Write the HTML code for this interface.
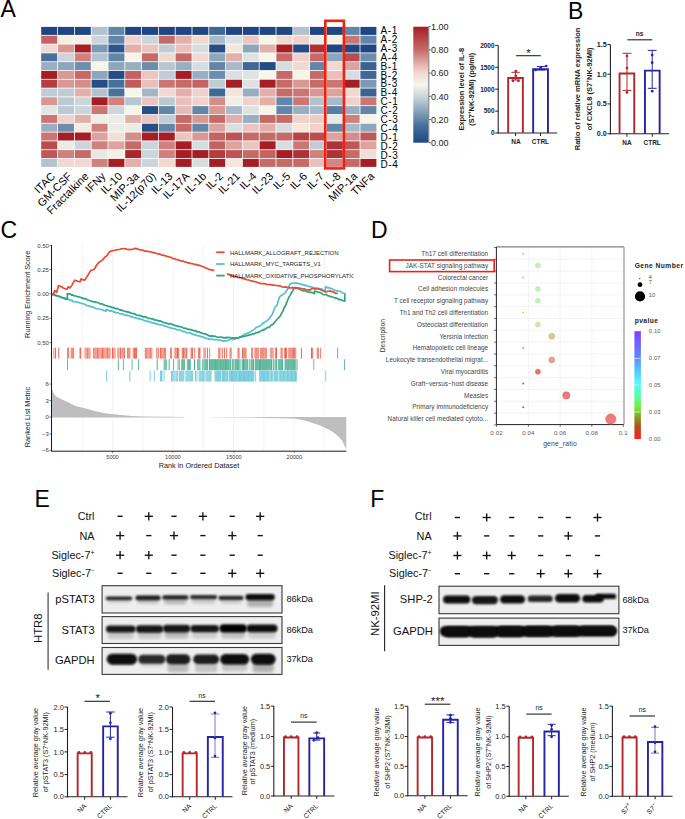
<!DOCTYPE html>
<html><head><meta charset="utf-8"><style>
html,body{margin:0;padding:0;background:#fff;}
svg{display:block;font-family:"Liberation Sans", sans-serif;}
</style></head><body>
<svg width="685" height="819" viewBox="0 0 685 819">
<rect width="685" height="819" fill="#fff"/>
<text x="0.60" y="17.20" font-size="23" text-anchor="start" font-weight="normal" fill="#000" >A</text>
<rect x="41.20" y="26.90" width="16.00" height="8.00" fill="#1f4682" stroke="none" stroke-width="1" />
<rect x="41.20" y="35.70" width="16.00" height="8.00" fill="#c36261" stroke="none" stroke-width="1" />
<rect x="41.20" y="44.50" width="16.00" height="8.00" fill="#f1d8d0" stroke="none" stroke-width="1" />
<rect x="41.20" y="53.30" width="16.00" height="8.00" fill="#48709c" stroke="none" stroke-width="1" />
<rect x="41.20" y="62.10" width="16.00" height="8.00" fill="#98aec1" stroke="none" stroke-width="1" />
<rect x="41.20" y="70.90" width="16.00" height="8.00" fill="#a51e26" stroke="none" stroke-width="1" />
<rect x="41.20" y="79.70" width="16.00" height="8.00" fill="#b23c40" stroke="none" stroke-width="1" />
<rect x="41.20" y="88.50" width="16.00" height="8.00" fill="#c1cdd6" stroke="none" stroke-width="1" />
<rect x="41.20" y="97.30" width="16.00" height="8.00" fill="#d99894" stroke="none" stroke-width="1" />
<rect x="41.20" y="106.10" width="16.00" height="8.00" fill="#e2e6e3" stroke="none" stroke-width="1" />
<rect x="41.20" y="114.90" width="16.00" height="8.00" fill="#cb7673" stroke="none" stroke-width="1" />
<rect x="41.20" y="123.70" width="16.00" height="8.00" fill="#98aec1" stroke="none" stroke-width="1" />
<rect x="41.20" y="132.50" width="16.00" height="8.00" fill="#cb7673" stroke="none" stroke-width="1" />
<rect x="41.20" y="141.30" width="16.00" height="8.00" fill="#b94c4e" stroke="none" stroke-width="1" />
<rect x="41.20" y="150.10" width="16.00" height="8.00" fill="#be5758" stroke="none" stroke-width="1" />
<rect x="41.20" y="158.90" width="16.00" height="8.00" fill="#b2c2ce" stroke="none" stroke-width="1" />
<rect x="58.00" y="26.90" width="16.00" height="8.00" fill="#1f4682" stroke="none" stroke-width="1" />
<rect x="58.00" y="35.70" width="16.00" height="8.00" fill="#f6efe3" stroke="none" stroke-width="1" />
<rect x="58.00" y="44.50" width="16.00" height="8.00" fill="#d99894" stroke="none" stroke-width="1" />
<rect x="58.00" y="53.30" width="16.00" height="8.00" fill="#ccd5db" stroke="none" stroke-width="1" />
<rect x="58.00" y="62.10" width="16.00" height="8.00" fill="#8da6bc" stroke="none" stroke-width="1" />
<rect x="58.00" y="70.90" width="16.00" height="8.00" fill="#d99894" stroke="none" stroke-width="1" />
<rect x="58.00" y="79.70" width="16.00" height="8.00" fill="#d99894" stroke="none" stroke-width="1" />
<rect x="58.00" y="88.50" width="16.00" height="8.00" fill="#c1cdd6" stroke="none" stroke-width="1" />
<rect x="58.00" y="97.30" width="16.00" height="8.00" fill="#bcc9d3" stroke="none" stroke-width="1" />
<rect x="58.00" y="106.10" width="16.00" height="8.00" fill="#bcc9d3" stroke="none" stroke-width="1" />
<rect x="58.00" y="114.90" width="16.00" height="8.00" fill="#f0d2cb" stroke="none" stroke-width="1" />
<rect x="58.00" y="123.70" width="16.00" height="8.00" fill="#6d8dad" stroke="none" stroke-width="1" />
<rect x="58.00" y="132.50" width="16.00" height="8.00" fill="#a51e26" stroke="none" stroke-width="1" />
<rect x="58.00" y="141.30" width="16.00" height="8.00" fill="#ebece5" stroke="none" stroke-width="1" />
<rect x="58.00" y="150.10" width="16.00" height="8.00" fill="#cf817e" stroke="none" stroke-width="1" />
<rect x="58.00" y="158.90" width="16.00" height="8.00" fill="#f1d8d0" stroke="none" stroke-width="1" />
<rect x="74.80" y="26.90" width="16.00" height="8.00" fill="#1f4682" stroke="none" stroke-width="1" />
<rect x="74.80" y="35.70" width="16.00" height="8.00" fill="#f6efe3" stroke="none" stroke-width="1" />
<rect x="74.80" y="44.50" width="16.00" height="8.00" fill="#a51e26" stroke="none" stroke-width="1" />
<rect x="74.80" y="53.30" width="16.00" height="8.00" fill="#cf817e" stroke="none" stroke-width="1" />
<rect x="74.80" y="62.10" width="16.00" height="8.00" fill="#6d8dad" stroke="none" stroke-width="1" />
<rect x="74.80" y="70.90" width="16.00" height="8.00" fill="#c66a68" stroke="none" stroke-width="1" />
<rect x="74.80" y="79.70" width="16.00" height="8.00" fill="#d48d89" stroke="none" stroke-width="1" />
<rect x="74.80" y="88.50" width="16.00" height="8.00" fill="#e2afaa" stroke="none" stroke-width="1" />
<rect x="74.80" y="97.30" width="16.00" height="8.00" fill="#ccd5db" stroke="none" stroke-width="1" />
<rect x="74.80" y="106.10" width="16.00" height="8.00" fill="#ccd5db" stroke="none" stroke-width="1" />
<rect x="74.80" y="114.90" width="16.00" height="8.00" fill="#e2afaa" stroke="none" stroke-width="1" />
<rect x="74.80" y="123.70" width="16.00" height="8.00" fill="#f5ece1" stroke="none" stroke-width="1" />
<rect x="74.80" y="132.50" width="16.00" height="8.00" fill="#a51e26" stroke="none" stroke-width="1" />
<rect x="74.80" y="141.30" width="16.00" height="8.00" fill="#ccd5db" stroke="none" stroke-width="1" />
<rect x="74.80" y="150.10" width="16.00" height="8.00" fill="#c66a68" stroke="none" stroke-width="1" />
<rect x="74.80" y="158.90" width="16.00" height="8.00" fill="#f1d8d0" stroke="none" stroke-width="1" />
<rect x="91.60" y="26.90" width="16.00" height="8.00" fill="#b2c2ce" stroke="none" stroke-width="1" />
<rect x="91.60" y="35.70" width="16.00" height="8.00" fill="#ccd5db" stroke="none" stroke-width="1" />
<rect x="91.60" y="44.50" width="16.00" height="8.00" fill="#7d99b5" stroke="none" stroke-width="1" />
<rect x="91.60" y="53.30" width="16.00" height="8.00" fill="#b2c2ce" stroke="none" stroke-width="1" />
<rect x="91.60" y="62.10" width="16.00" height="8.00" fill="#f7f5e8" stroke="none" stroke-width="1" />
<rect x="91.60" y="70.90" width="16.00" height="8.00" fill="#8da6bc" stroke="none" stroke-width="1" />
<rect x="91.60" y="79.70" width="16.00" height="8.00" fill="#244c85" stroke="none" stroke-width="1" />
<rect x="91.60" y="88.50" width="16.00" height="8.00" fill="#b2c2ce" stroke="none" stroke-width="1" />
<rect x="91.60" y="97.30" width="16.00" height="8.00" fill="#a51e26" stroke="none" stroke-width="1" />
<rect x="91.60" y="106.10" width="16.00" height="8.00" fill="#cb7673" stroke="none" stroke-width="1" />
<rect x="91.60" y="114.90" width="16.00" height="8.00" fill="#efefe6" stroke="none" stroke-width="1" />
<rect x="91.60" y="123.70" width="16.00" height="8.00" fill="#cf817e" stroke="none" stroke-width="1" />
<rect x="91.60" y="132.50" width="16.00" height="8.00" fill="#dda49f" stroke="none" stroke-width="1" />
<rect x="91.60" y="141.30" width="16.00" height="8.00" fill="#cf817e" stroke="none" stroke-width="1" />
<rect x="91.60" y="150.10" width="16.00" height="8.00" fill="#e6e9e4" stroke="none" stroke-width="1" />
<rect x="91.60" y="158.90" width="16.00" height="8.00" fill="#cf817e" stroke="none" stroke-width="1" />
<rect x="108.40" y="26.90" width="16.00" height="8.00" fill="#6385a8" stroke="none" stroke-width="1" />
<rect x="108.40" y="35.70" width="16.00" height="8.00" fill="#6385a8" stroke="none" stroke-width="1" />
<rect x="108.40" y="44.50" width="16.00" height="8.00" fill="#2d548b" stroke="none" stroke-width="1" />
<rect x="108.40" y="53.30" width="16.00" height="8.00" fill="#6385a8" stroke="none" stroke-width="1" />
<rect x="108.40" y="62.10" width="16.00" height="8.00" fill="#8da6bc" stroke="none" stroke-width="1" />
<rect x="108.40" y="70.90" width="16.00" height="8.00" fill="#244c85" stroke="none" stroke-width="1" />
<rect x="108.40" y="79.70" width="16.00" height="8.00" fill="#48709c" stroke="none" stroke-width="1" />
<rect x="108.40" y="88.50" width="16.00" height="8.00" fill="#48709c" stroke="none" stroke-width="1" />
<rect x="108.40" y="97.30" width="16.00" height="8.00" fill="#cf817e" stroke="none" stroke-width="1" />
<rect x="108.40" y="106.10" width="16.00" height="8.00" fill="#ccd5db" stroke="none" stroke-width="1" />
<rect x="108.40" y="114.90" width="16.00" height="8.00" fill="#ebece5" stroke="none" stroke-width="1" />
<rect x="108.40" y="123.70" width="16.00" height="8.00" fill="#ebece5" stroke="none" stroke-width="1" />
<rect x="108.40" y="132.50" width="16.00" height="8.00" fill="#f2ded5" stroke="none" stroke-width="1" />
<rect x="108.40" y="141.30" width="16.00" height="8.00" fill="#dda49f" stroke="none" stroke-width="1" />
<rect x="108.40" y="150.10" width="16.00" height="8.00" fill="#f6efe3" stroke="none" stroke-width="1" />
<rect x="108.40" y="158.90" width="16.00" height="8.00" fill="#a51e26" stroke="none" stroke-width="1" />
<rect x="125.20" y="26.90" width="16.00" height="8.00" fill="#1f4682" stroke="none" stroke-width="1" />
<rect x="125.20" y="35.70" width="16.00" height="8.00" fill="#f0d2cb" stroke="none" stroke-width="1" />
<rect x="125.20" y="44.50" width="16.00" height="8.00" fill="#e2afaa" stroke="none" stroke-width="1" />
<rect x="125.20" y="53.30" width="16.00" height="8.00" fill="#f7f5e8" stroke="none" stroke-width="1" />
<rect x="125.20" y="62.10" width="16.00" height="8.00" fill="#98aec1" stroke="none" stroke-width="1" />
<rect x="125.20" y="70.90" width="16.00" height="8.00" fill="#c36261" stroke="none" stroke-width="1" />
<rect x="125.20" y="79.70" width="16.00" height="8.00" fill="#bf5b5b" stroke="none" stroke-width="1" />
<rect x="125.20" y="88.50" width="16.00" height="8.00" fill="#f7f5e8" stroke="none" stroke-width="1" />
<rect x="125.20" y="97.30" width="16.00" height="8.00" fill="#b7c6d0" stroke="none" stroke-width="1" />
<rect x="125.20" y="106.10" width="16.00" height="8.00" fill="#f7f5e8" stroke="none" stroke-width="1" />
<rect x="125.20" y="114.90" width="16.00" height="8.00" fill="#e2afaa" stroke="none" stroke-width="1" />
<rect x="125.20" y="123.70" width="16.00" height="8.00" fill="#ebece5" stroke="none" stroke-width="1" />
<rect x="125.20" y="132.50" width="16.00" height="8.00" fill="#d48d89" stroke="none" stroke-width="1" />
<rect x="125.20" y="141.30" width="16.00" height="8.00" fill="#c66a68" stroke="none" stroke-width="1" />
<rect x="125.20" y="150.10" width="16.00" height="8.00" fill="#a8262d" stroke="none" stroke-width="1" />
<rect x="125.20" y="158.90" width="16.00" height="8.00" fill="#e2afaa" stroke="none" stroke-width="1" />
<rect x="142.00" y="26.90" width="16.00" height="8.00" fill="#1f4682" stroke="none" stroke-width="1" />
<rect x="142.00" y="35.70" width="16.00" height="8.00" fill="#ccd5db" stroke="none" stroke-width="1" />
<rect x="142.00" y="44.50" width="16.00" height="8.00" fill="#ebc6c0" stroke="none" stroke-width="1" />
<rect x="142.00" y="53.30" width="16.00" height="8.00" fill="#c66a68" stroke="none" stroke-width="1" />
<rect x="142.00" y="62.10" width="16.00" height="8.00" fill="#6d8dad" stroke="none" stroke-width="1" />
<rect x="142.00" y="70.90" width="16.00" height="8.00" fill="#ebc6c0" stroke="none" stroke-width="1" />
<rect x="142.00" y="79.70" width="16.00" height="8.00" fill="#e9c1ba" stroke="none" stroke-width="1" />
<rect x="142.00" y="88.50" width="16.00" height="8.00" fill="#a2b6c6" stroke="none" stroke-width="1" />
<rect x="142.00" y="97.30" width="16.00" height="8.00" fill="#ebc6c0" stroke="none" stroke-width="1" />
<rect x="142.00" y="106.10" width="16.00" height="8.00" fill="#274e87" stroke="none" stroke-width="1" />
<rect x="142.00" y="114.90" width="16.00" height="8.00" fill="#ebc6c0" stroke="none" stroke-width="1" />
<rect x="142.00" y="123.70" width="16.00" height="8.00" fill="#274e87" stroke="none" stroke-width="1" />
<rect x="142.00" y="132.50" width="16.00" height="8.00" fill="#a51e26" stroke="none" stroke-width="1" />
<rect x="142.00" y="141.30" width="16.00" height="8.00" fill="#ccd5db" stroke="none" stroke-width="1" />
<rect x="142.00" y="150.10" width="16.00" height="8.00" fill="#ccd5db" stroke="none" stroke-width="1" />
<rect x="142.00" y="158.90" width="16.00" height="8.00" fill="#ccd5db" stroke="none" stroke-width="1" />
<rect x="158.80" y="26.90" width="16.00" height="8.00" fill="#1f4682" stroke="none" stroke-width="1" />
<rect x="158.80" y="35.70" width="16.00" height="8.00" fill="#c66a68" stroke="none" stroke-width="1" />
<rect x="158.80" y="44.50" width="16.00" height="8.00" fill="#c1cdd6" stroke="none" stroke-width="1" />
<rect x="158.80" y="53.30" width="16.00" height="8.00" fill="#f1d8d0" stroke="none" stroke-width="1" />
<rect x="158.80" y="62.10" width="16.00" height="8.00" fill="#b7c6d0" stroke="none" stroke-width="1" />
<rect x="158.80" y="70.90" width="16.00" height="8.00" fill="#c1cdd6" stroke="none" stroke-width="1" />
<rect x="158.80" y="79.70" width="16.00" height="8.00" fill="#cb7673" stroke="none" stroke-width="1" />
<rect x="158.80" y="88.50" width="16.00" height="8.00" fill="#f1d8d0" stroke="none" stroke-width="1" />
<rect x="158.80" y="97.30" width="16.00" height="8.00" fill="#bcc9d3" stroke="none" stroke-width="1" />
<rect x="158.80" y="106.10" width="16.00" height="8.00" fill="#6385a8" stroke="none" stroke-width="1" />
<rect x="158.80" y="114.90" width="16.00" height="8.00" fill="#c1cdd6" stroke="none" stroke-width="1" />
<rect x="158.80" y="123.70" width="16.00" height="8.00" fill="#6385a8" stroke="none" stroke-width="1" />
<rect x="158.80" y="132.50" width="16.00" height="8.00" fill="#a51e26" stroke="none" stroke-width="1" />
<rect x="158.80" y="141.30" width="16.00" height="8.00" fill="#cf817e" stroke="none" stroke-width="1" />
<rect x="158.80" y="150.10" width="16.00" height="8.00" fill="#cf817e" stroke="none" stroke-width="1" />
<rect x="158.80" y="158.90" width="16.00" height="8.00" fill="#f1d8d0" stroke="none" stroke-width="1" />
<rect x="175.60" y="26.90" width="16.00" height="8.00" fill="#1f4682" stroke="none" stroke-width="1" />
<rect x="175.60" y="35.70" width="16.00" height="8.00" fill="#e2afaa" stroke="none" stroke-width="1" />
<rect x="175.60" y="44.50" width="16.00" height="8.00" fill="#e9c1ba" stroke="none" stroke-width="1" />
<rect x="175.60" y="53.30" width="16.00" height="8.00" fill="#c66a68" stroke="none" stroke-width="1" />
<rect x="175.60" y="62.10" width="16.00" height="8.00" fill="#98aec1" stroke="none" stroke-width="1" />
<rect x="175.60" y="70.90" width="16.00" height="8.00" fill="#a51e26" stroke="none" stroke-width="1" />
<rect x="175.60" y="79.70" width="16.00" height="8.00" fill="#c66a68" stroke="none" stroke-width="1" />
<rect x="175.60" y="88.50" width="16.00" height="8.00" fill="#e2afaa" stroke="none" stroke-width="1" />
<rect x="175.60" y="97.30" width="16.00" height="8.00" fill="#e9c1ba" stroke="none" stroke-width="1" />
<rect x="175.60" y="106.10" width="16.00" height="8.00" fill="#e7bbb5" stroke="none" stroke-width="1" />
<rect x="175.60" y="114.90" width="16.00" height="8.00" fill="#c66a68" stroke="none" stroke-width="1" />
<rect x="175.60" y="123.70" width="16.00" height="8.00" fill="#c66a68" stroke="none" stroke-width="1" />
<rect x="175.60" y="132.50" width="16.00" height="8.00" fill="#ebc6c0" stroke="none" stroke-width="1" />
<rect x="175.60" y="141.30" width="16.00" height="8.00" fill="#a51e26" stroke="none" stroke-width="1" />
<rect x="175.60" y="150.10" width="16.00" height="8.00" fill="#a51e26" stroke="none" stroke-width="1" />
<rect x="175.60" y="158.90" width="16.00" height="8.00" fill="#a51e26" stroke="none" stroke-width="1" />
<rect x="192.40" y="26.90" width="16.00" height="8.00" fill="#1f4682" stroke="none" stroke-width="1" />
<rect x="192.40" y="35.70" width="16.00" height="8.00" fill="#f1d8d0" stroke="none" stroke-width="1" />
<rect x="192.40" y="44.50" width="16.00" height="8.00" fill="#d6dde0" stroke="none" stroke-width="1" />
<rect x="192.40" y="53.30" width="16.00" height="8.00" fill="#f1d8d0" stroke="none" stroke-width="1" />
<rect x="192.40" y="62.10" width="16.00" height="8.00" fill="#d6dde0" stroke="none" stroke-width="1" />
<rect x="192.40" y="70.90" width="16.00" height="8.00" fill="#98aec1" stroke="none" stroke-width="1" />
<rect x="192.40" y="79.70" width="16.00" height="8.00" fill="#c36261" stroke="none" stroke-width="1" />
<rect x="192.40" y="88.50" width="16.00" height="8.00" fill="#f0d2cb" stroke="none" stroke-width="1" />
<rect x="192.40" y="97.30" width="16.00" height="8.00" fill="#f0d2cb" stroke="none" stroke-width="1" />
<rect x="192.40" y="106.10" width="16.00" height="8.00" fill="#6385a8" stroke="none" stroke-width="1" />
<rect x="192.40" y="114.90" width="16.00" height="8.00" fill="#d99894" stroke="none" stroke-width="1" />
<rect x="192.40" y="123.70" width="16.00" height="8.00" fill="#6385a8" stroke="none" stroke-width="1" />
<rect x="192.40" y="132.50" width="16.00" height="8.00" fill="#d99894" stroke="none" stroke-width="1" />
<rect x="192.40" y="141.30" width="16.00" height="8.00" fill="#d6dde0" stroke="none" stroke-width="1" />
<rect x="192.40" y="150.10" width="16.00" height="8.00" fill="#a51e26" stroke="none" stroke-width="1" />
<rect x="192.40" y="158.90" width="16.00" height="8.00" fill="#d6dde0" stroke="none" stroke-width="1" />
<rect x="209.20" y="26.90" width="16.00" height="8.00" fill="#406897" stroke="none" stroke-width="1" />
<rect x="209.20" y="35.70" width="16.00" height="8.00" fill="#a8bac9" stroke="none" stroke-width="1" />
<rect x="209.20" y="44.50" width="16.00" height="8.00" fill="#244c85" stroke="none" stroke-width="1" />
<rect x="209.20" y="53.30" width="16.00" height="8.00" fill="#8da6bc" stroke="none" stroke-width="1" />
<rect x="209.20" y="62.10" width="16.00" height="8.00" fill="#6385a8" stroke="none" stroke-width="1" />
<rect x="209.20" y="70.90" width="16.00" height="8.00" fill="#6d8dad" stroke="none" stroke-width="1" />
<rect x="209.20" y="79.70" width="16.00" height="8.00" fill="#c1cdd6" stroke="none" stroke-width="1" />
<rect x="209.20" y="88.50" width="16.00" height="8.00" fill="#406897" stroke="none" stroke-width="1" />
<rect x="209.20" y="97.30" width="16.00" height="8.00" fill="#d48d89" stroke="none" stroke-width="1" />
<rect x="209.20" y="106.10" width="16.00" height="8.00" fill="#d99894" stroke="none" stroke-width="1" />
<rect x="209.20" y="114.90" width="16.00" height="8.00" fill="#c66a68" stroke="none" stroke-width="1" />
<rect x="209.20" y="123.70" width="16.00" height="8.00" fill="#dda49f" stroke="none" stroke-width="1" />
<rect x="209.20" y="132.50" width="16.00" height="8.00" fill="#c36261" stroke="none" stroke-width="1" />
<rect x="209.20" y="141.30" width="16.00" height="8.00" fill="#c36261" stroke="none" stroke-width="1" />
<rect x="209.20" y="150.10" width="16.00" height="8.00" fill="#b23c40" stroke="none" stroke-width="1" />
<rect x="209.20" y="158.90" width="16.00" height="8.00" fill="#a51e26" stroke="none" stroke-width="1" />
<rect x="226.00" y="26.90" width="16.00" height="8.00" fill="#1f4682" stroke="none" stroke-width="1" />
<rect x="226.00" y="35.70" width="16.00" height="8.00" fill="#dae0e1" stroke="none" stroke-width="1" />
<rect x="226.00" y="44.50" width="16.00" height="8.00" fill="#f4e6dc" stroke="none" stroke-width="1" />
<rect x="226.00" y="53.30" width="16.00" height="8.00" fill="#e2afaa" stroke="none" stroke-width="1" />
<rect x="226.00" y="62.10" width="16.00" height="8.00" fill="#a8bac9" stroke="none" stroke-width="1" />
<rect x="226.00" y="70.90" width="16.00" height="8.00" fill="#dae0e1" stroke="none" stroke-width="1" />
<rect x="226.00" y="79.70" width="16.00" height="8.00" fill="#a51e26" stroke="none" stroke-width="1" />
<rect x="226.00" y="88.50" width="16.00" height="8.00" fill="#f4e6dc" stroke="none" stroke-width="1" />
<rect x="226.00" y="97.30" width="16.00" height="8.00" fill="#efefe6" stroke="none" stroke-width="1" />
<rect x="226.00" y="106.10" width="16.00" height="8.00" fill="#a8bac9" stroke="none" stroke-width="1" />
<rect x="226.00" y="114.90" width="16.00" height="8.00" fill="#e2afaa" stroke="none" stroke-width="1" />
<rect x="226.00" y="123.70" width="16.00" height="8.00" fill="#dae0e1" stroke="none" stroke-width="1" />
<rect x="226.00" y="132.50" width="16.00" height="8.00" fill="#bc5354" stroke="none" stroke-width="1" />
<rect x="226.00" y="141.30" width="16.00" height="8.00" fill="#dda49f" stroke="none" stroke-width="1" />
<rect x="226.00" y="150.10" width="16.00" height="8.00" fill="#bc5354" stroke="none" stroke-width="1" />
<rect x="226.00" y="158.90" width="16.00" height="8.00" fill="#f4e6dc" stroke="none" stroke-width="1" />
<rect x="242.80" y="26.90" width="16.00" height="8.00" fill="#1f4682" stroke="none" stroke-width="1" />
<rect x="242.80" y="35.70" width="16.00" height="8.00" fill="#ebc6c0" stroke="none" stroke-width="1" />
<rect x="242.80" y="44.50" width="16.00" height="8.00" fill="#8da6bc" stroke="none" stroke-width="1" />
<rect x="242.80" y="53.30" width="16.00" height="8.00" fill="#dee3e2" stroke="none" stroke-width="1" />
<rect x="242.80" y="62.10" width="16.00" height="8.00" fill="#406897" stroke="none" stroke-width="1" />
<rect x="242.80" y="70.90" width="16.00" height="8.00" fill="#dee3e2" stroke="none" stroke-width="1" />
<rect x="242.80" y="79.70" width="16.00" height="8.00" fill="#dee3e2" stroke="none" stroke-width="1" />
<rect x="242.80" y="88.50" width="16.00" height="8.00" fill="#98aec1" stroke="none" stroke-width="1" />
<rect x="242.80" y="97.30" width="16.00" height="8.00" fill="#f0d2cb" stroke="none" stroke-width="1" />
<rect x="242.80" y="106.10" width="16.00" height="8.00" fill="#dee3e2" stroke="none" stroke-width="1" />
<rect x="242.80" y="114.90" width="16.00" height="8.00" fill="#98aec1" stroke="none" stroke-width="1" />
<rect x="242.80" y="123.70" width="16.00" height="8.00" fill="#ebc6c0" stroke="none" stroke-width="1" />
<rect x="242.80" y="132.50" width="16.00" height="8.00" fill="#c66a68" stroke="none" stroke-width="1" />
<rect x="242.80" y="141.30" width="16.00" height="8.00" fill="#ebc6c0" stroke="none" stroke-width="1" />
<rect x="242.80" y="150.10" width="16.00" height="8.00" fill="#c66a68" stroke="none" stroke-width="1" />
<rect x="242.80" y="158.90" width="16.00" height="8.00" fill="#a51e26" stroke="none" stroke-width="1" />
<rect x="259.60" y="26.90" width="16.00" height="8.00" fill="#1f4682" stroke="none" stroke-width="1" />
<rect x="259.60" y="35.70" width="16.00" height="8.00" fill="#f7f5e8" stroke="none" stroke-width="1" />
<rect x="259.60" y="44.50" width="16.00" height="8.00" fill="#e2afaa" stroke="none" stroke-width="1" />
<rect x="259.60" y="53.30" width="16.00" height="8.00" fill="#f7f5e8" stroke="none" stroke-width="1" />
<rect x="259.60" y="62.10" width="16.00" height="8.00" fill="#244c85" stroke="none" stroke-width="1" />
<rect x="259.60" y="70.90" width="16.00" height="8.00" fill="#f7f5e8" stroke="none" stroke-width="1" />
<rect x="259.60" y="79.70" width="16.00" height="8.00" fill="#a51e26" stroke="none" stroke-width="1" />
<rect x="259.60" y="88.50" width="16.00" height="8.00" fill="#e2afaa" stroke="none" stroke-width="1" />
<rect x="259.60" y="97.30" width="16.00" height="8.00" fill="#e2afaa" stroke="none" stroke-width="1" />
<rect x="259.60" y="106.10" width="16.00" height="8.00" fill="#f7f5e8" stroke="none" stroke-width="1" />
<rect x="259.60" y="114.90" width="16.00" height="8.00" fill="#c66a68" stroke="none" stroke-width="1" />
<rect x="259.60" y="123.70" width="16.00" height="8.00" fill="#e2afaa" stroke="none" stroke-width="1" />
<rect x="259.60" y="132.50" width="16.00" height="8.00" fill="#c66a68" stroke="none" stroke-width="1" />
<rect x="259.60" y="141.30" width="16.00" height="8.00" fill="#a51e26" stroke="none" stroke-width="1" />
<rect x="259.60" y="150.10" width="16.00" height="8.00" fill="#c36261" stroke="none" stroke-width="1" />
<rect x="259.60" y="158.90" width="16.00" height="8.00" fill="#c66a68" stroke="none" stroke-width="1" />
<rect x="276.40" y="26.90" width="16.00" height="8.00" fill="#1f4682" stroke="none" stroke-width="1" />
<rect x="276.40" y="35.70" width="16.00" height="8.00" fill="#f1d8d0" stroke="none" stroke-width="1" />
<rect x="276.40" y="44.50" width="16.00" height="8.00" fill="#a51e26" stroke="none" stroke-width="1" />
<rect x="276.40" y="53.30" width="16.00" height="8.00" fill="#c66a68" stroke="none" stroke-width="1" />
<rect x="276.40" y="62.10" width="16.00" height="8.00" fill="#d6dde0" stroke="none" stroke-width="1" />
<rect x="276.40" y="70.90" width="16.00" height="8.00" fill="#c66a68" stroke="none" stroke-width="1" />
<rect x="276.40" y="79.70" width="16.00" height="8.00" fill="#c66a68" stroke="none" stroke-width="1" />
<rect x="276.40" y="88.50" width="16.00" height="8.00" fill="#c66a68" stroke="none" stroke-width="1" />
<rect x="276.40" y="97.30" width="16.00" height="8.00" fill="#6385a8" stroke="none" stroke-width="1" />
<rect x="276.40" y="106.10" width="16.00" height="8.00" fill="#6385a8" stroke="none" stroke-width="1" />
<rect x="276.40" y="114.90" width="16.00" height="8.00" fill="#c66a68" stroke="none" stroke-width="1" />
<rect x="276.40" y="123.70" width="16.00" height="8.00" fill="#d6dde0" stroke="none" stroke-width="1" />
<rect x="276.40" y="132.50" width="16.00" height="8.00" fill="#c66a68" stroke="none" stroke-width="1" />
<rect x="276.40" y="141.30" width="16.00" height="8.00" fill="#d6dde0" stroke="none" stroke-width="1" />
<rect x="276.40" y="150.10" width="16.00" height="8.00" fill="#a51e26" stroke="none" stroke-width="1" />
<rect x="276.40" y="158.90" width="16.00" height="8.00" fill="#c66a68" stroke="none" stroke-width="1" />
<rect x="293.20" y="26.90" width="16.00" height="8.00" fill="#b2c2ce" stroke="none" stroke-width="1" />
<rect x="293.20" y="35.70" width="16.00" height="8.00" fill="#f0d2cb" stroke="none" stroke-width="1" />
<rect x="293.20" y="44.50" width="16.00" height="8.00" fill="#244c85" stroke="none" stroke-width="1" />
<rect x="293.20" y="53.30" width="16.00" height="8.00" fill="#f0d2cb" stroke="none" stroke-width="1" />
<rect x="293.20" y="62.10" width="16.00" height="8.00" fill="#f1d8d0" stroke="none" stroke-width="1" />
<rect x="293.20" y="70.90" width="16.00" height="8.00" fill="#f7f5e8" stroke="none" stroke-width="1" />
<rect x="293.20" y="79.70" width="16.00" height="8.00" fill="#d99894" stroke="none" stroke-width="1" />
<rect x="293.20" y="88.50" width="16.00" height="8.00" fill="#cb7673" stroke="none" stroke-width="1" />
<rect x="293.20" y="97.30" width="16.00" height="8.00" fill="#cb7673" stroke="none" stroke-width="1" />
<rect x="293.20" y="106.10" width="16.00" height="8.00" fill="#98aec1" stroke="none" stroke-width="1" />
<rect x="293.20" y="114.90" width="16.00" height="8.00" fill="#f0d2cb" stroke="none" stroke-width="1" />
<rect x="293.20" y="123.70" width="16.00" height="8.00" fill="#f5e9de" stroke="none" stroke-width="1" />
<rect x="293.20" y="132.50" width="16.00" height="8.00" fill="#b64447" stroke="none" stroke-width="1" />
<rect x="293.20" y="141.30" width="16.00" height="8.00" fill="#cb7673" stroke="none" stroke-width="1" />
<rect x="293.20" y="150.10" width="16.00" height="8.00" fill="#ad3137" stroke="none" stroke-width="1" />
<rect x="293.20" y="158.90" width="16.00" height="8.00" fill="#c66a68" stroke="none" stroke-width="1" />
<rect x="310.00" y="26.90" width="16.00" height="8.00" fill="#1f4682" stroke="none" stroke-width="1" />
<rect x="310.00" y="35.70" width="16.00" height="8.00" fill="#ebece5" stroke="none" stroke-width="1" />
<rect x="310.00" y="44.50" width="16.00" height="8.00" fill="#ad3137" stroke="none" stroke-width="1" />
<rect x="310.00" y="53.30" width="16.00" height="8.00" fill="#c66a68" stroke="none" stroke-width="1" />
<rect x="310.00" y="62.10" width="16.00" height="8.00" fill="#6385a8" stroke="none" stroke-width="1" />
<rect x="310.00" y="70.90" width="16.00" height="8.00" fill="#c66a68" stroke="none" stroke-width="1" />
<rect x="310.00" y="79.70" width="16.00" height="8.00" fill="#c66a68" stroke="none" stroke-width="1" />
<rect x="310.00" y="88.50" width="16.00" height="8.00" fill="#d99894" stroke="none" stroke-width="1" />
<rect x="310.00" y="97.30" width="16.00" height="8.00" fill="#b2c2ce" stroke="none" stroke-width="1" />
<rect x="310.00" y="106.10" width="16.00" height="8.00" fill="#a8bac9" stroke="none" stroke-width="1" />
<rect x="310.00" y="114.90" width="16.00" height="8.00" fill="#eeccc6" stroke="none" stroke-width="1" />
<rect x="310.00" y="123.70" width="16.00" height="8.00" fill="#f0d2cb" stroke="none" stroke-width="1" />
<rect x="310.00" y="132.50" width="16.00" height="8.00" fill="#b94c4e" stroke="none" stroke-width="1" />
<rect x="310.00" y="141.30" width="16.00" height="8.00" fill="#c1cdd6" stroke="none" stroke-width="1" />
<rect x="310.00" y="150.10" width="16.00" height="8.00" fill="#cf817e" stroke="none" stroke-width="1" />
<rect x="310.00" y="158.90" width="16.00" height="8.00" fill="#e9c1ba" stroke="none" stroke-width="1" />
<rect x="326.80" y="26.90" width="16.00" height="8.00" fill="#1f4682" stroke="none" stroke-width="1" />
<rect x="326.80" y="35.70" width="16.00" height="8.00" fill="#f6efe3" stroke="none" stroke-width="1" />
<rect x="326.80" y="44.50" width="16.00" height="8.00" fill="#1f4682" stroke="none" stroke-width="1" />
<rect x="326.80" y="53.30" width="16.00" height="8.00" fill="#8da6bc" stroke="none" stroke-width="1" />
<rect x="326.80" y="62.10" width="16.00" height="8.00" fill="#f1d8d0" stroke="none" stroke-width="1" />
<rect x="326.80" y="70.90" width="16.00" height="8.00" fill="#e9c1ba" stroke="none" stroke-width="1" />
<rect x="326.80" y="79.70" width="16.00" height="8.00" fill="#cb7673" stroke="none" stroke-width="1" />
<rect x="326.80" y="88.50" width="16.00" height="8.00" fill="#dda49f" stroke="none" stroke-width="1" />
<rect x="326.80" y="97.30" width="16.00" height="8.00" fill="#a8bac9" stroke="none" stroke-width="1" />
<rect x="326.80" y="106.10" width="16.00" height="8.00" fill="#587ca3" stroke="none" stroke-width="1" />
<rect x="326.80" y="114.90" width="16.00" height="8.00" fill="#e6e9e4" stroke="none" stroke-width="1" />
<rect x="326.80" y="123.70" width="16.00" height="8.00" fill="#6385a8" stroke="none" stroke-width="1" />
<rect x="326.80" y="132.50" width="16.00" height="8.00" fill="#dda49f" stroke="none" stroke-width="1" />
<rect x="326.80" y="141.30" width="16.00" height="8.00" fill="#ad3137" stroke="none" stroke-width="1" />
<rect x="326.80" y="150.10" width="16.00" height="8.00" fill="#ad3137" stroke="none" stroke-width="1" />
<rect x="326.80" y="158.90" width="16.00" height="8.00" fill="#d28784" stroke="none" stroke-width="1" />
<rect x="343.60" y="26.90" width="16.00" height="8.00" fill="#6385a8" stroke="none" stroke-width="1" />
<rect x="343.60" y="35.70" width="16.00" height="8.00" fill="#cb7673" stroke="none" stroke-width="1" />
<rect x="343.60" y="44.50" width="16.00" height="8.00" fill="#1f4682" stroke="none" stroke-width="1" />
<rect x="343.60" y="53.30" width="16.00" height="8.00" fill="#b94c4e" stroke="none" stroke-width="1" />
<rect x="343.60" y="62.10" width="16.00" height="8.00" fill="#dda49f" stroke="none" stroke-width="1" />
<rect x="343.60" y="70.90" width="16.00" height="8.00" fill="#d6dde0" stroke="none" stroke-width="1" />
<rect x="343.60" y="79.70" width="16.00" height="8.00" fill="#a51e26" stroke="none" stroke-width="1" />
<rect x="343.60" y="88.50" width="16.00" height="8.00" fill="#f1d8d0" stroke="none" stroke-width="1" />
<rect x="343.60" y="97.30" width="16.00" height="8.00" fill="#f0d2cb" stroke="none" stroke-width="1" />
<rect x="343.60" y="106.10" width="16.00" height="8.00" fill="#98aec1" stroke="none" stroke-width="1" />
<rect x="343.60" y="114.90" width="16.00" height="8.00" fill="#cf817e" stroke="none" stroke-width="1" />
<rect x="343.60" y="123.70" width="16.00" height="8.00" fill="#a8bac9" stroke="none" stroke-width="1" />
<rect x="343.60" y="132.50" width="16.00" height="8.00" fill="#d48d89" stroke="none" stroke-width="1" />
<rect x="343.60" y="141.30" width="16.00" height="8.00" fill="#be5758" stroke="none" stroke-width="1" />
<rect x="343.60" y="150.10" width="16.00" height="8.00" fill="#c66a68" stroke="none" stroke-width="1" />
<rect x="343.60" y="158.90" width="16.00" height="8.00" fill="#c66a68" stroke="none" stroke-width="1" />
<rect x="360.40" y="26.90" width="16.00" height="8.00" fill="#1f4682" stroke="none" stroke-width="1" />
<rect x="360.40" y="35.70" width="16.00" height="8.00" fill="#6385a8" stroke="none" stroke-width="1" />
<rect x="360.40" y="44.50" width="16.00" height="8.00" fill="#1f4682" stroke="none" stroke-width="1" />
<rect x="360.40" y="53.30" width="16.00" height="8.00" fill="#6d8dad" stroke="none" stroke-width="1" />
<rect x="360.40" y="62.10" width="16.00" height="8.00" fill="#3a6293" stroke="none" stroke-width="1" />
<rect x="360.40" y="70.90" width="16.00" height="8.00" fill="#406897" stroke="none" stroke-width="1" />
<rect x="360.40" y="79.70" width="16.00" height="8.00" fill="#7d99b5" stroke="none" stroke-width="1" />
<rect x="360.40" y="88.50" width="16.00" height="8.00" fill="#3a6293" stroke="none" stroke-width="1" />
<rect x="360.40" y="97.30" width="16.00" height="8.00" fill="#cb7673" stroke="none" stroke-width="1" />
<rect x="360.40" y="106.10" width="16.00" height="8.00" fill="#6385a8" stroke="none" stroke-width="1" />
<rect x="360.40" y="114.90" width="16.00" height="8.00" fill="#f7f5e8" stroke="none" stroke-width="1" />
<rect x="360.40" y="123.70" width="16.00" height="8.00" fill="#8da6bc" stroke="none" stroke-width="1" />
<rect x="360.40" y="132.50" width="16.00" height="8.00" fill="#be5758" stroke="none" stroke-width="1" />
<rect x="360.40" y="141.30" width="16.00" height="8.00" fill="#dda49f" stroke="none" stroke-width="1" />
<rect x="360.40" y="150.10" width="16.00" height="8.00" fill="#f2ded5" stroke="none" stroke-width="1" />
<rect x="360.40" y="158.90" width="16.00" height="8.00" fill="#a51e26" stroke="none" stroke-width="1" />
<text x="380.60" y="34.10" font-size="10.0" text-anchor="start" font-weight="normal" fill="#000" letter-spacing="0.55">A-1</text>
<text x="380.60" y="42.99" font-size="10.0" text-anchor="start" font-weight="normal" fill="#000" letter-spacing="0.55">A-2</text>
<text x="380.60" y="51.89" font-size="10.0" text-anchor="start" font-weight="normal" fill="#000" letter-spacing="0.55">A-3</text>
<text x="380.60" y="60.78" font-size="10.0" text-anchor="start" font-weight="normal" fill="#000" letter-spacing="0.55">A-4</text>
<text x="380.60" y="69.67" font-size="10.0" text-anchor="start" font-weight="normal" fill="#000" letter-spacing="0.55">B-1</text>
<text x="380.60" y="78.56" font-size="10.0" text-anchor="start" font-weight="normal" fill="#000" letter-spacing="0.55">B-2</text>
<text x="380.60" y="87.46" font-size="10.0" text-anchor="start" font-weight="normal" fill="#000" letter-spacing="0.55">B-3</text>
<text x="380.60" y="96.35" font-size="10.0" text-anchor="start" font-weight="normal" fill="#000" letter-spacing="0.55">B-4</text>
<text x="380.60" y="105.24" font-size="10.0" text-anchor="start" font-weight="normal" fill="#000" letter-spacing="0.55">C-1</text>
<text x="380.60" y="114.14" font-size="10.0" text-anchor="start" font-weight="normal" fill="#000" letter-spacing="0.55">C-2</text>
<text x="380.60" y="123.03" font-size="10.0" text-anchor="start" font-weight="normal" fill="#000" letter-spacing="0.55">C-3</text>
<text x="380.60" y="131.92" font-size="10.0" text-anchor="start" font-weight="normal" fill="#000" letter-spacing="0.55">C-4</text>
<text x="380.60" y="140.82" font-size="10.0" text-anchor="start" font-weight="normal" fill="#000" letter-spacing="0.55">D-1</text>
<text x="380.60" y="149.71" font-size="10.0" text-anchor="start" font-weight="normal" fill="#000" letter-spacing="0.55">D-2</text>
<text x="380.60" y="158.60" font-size="10.0" text-anchor="start" font-weight="normal" fill="#000" letter-spacing="0.55">D-3</text>
<text x="380.60" y="167.50" font-size="10.0" text-anchor="start" font-weight="normal" fill="#000" letter-spacing="0.55">D-4</text>
<text x="0.00" y="0.00" font-size="11" text-anchor="end" font-weight="normal" fill="#000" transform="translate(55.80,176.90) rotate(-45)" >ITAC</text>
<text x="0.00" y="0.00" font-size="11" text-anchor="end" font-weight="normal" fill="#000" transform="translate(72.60,176.90) rotate(-45)" >GM-CSF</text>
<text x="0.00" y="0.00" font-size="11" text-anchor="end" font-weight="normal" fill="#000" transform="translate(89.40,176.90) rotate(-45)" >Fractalkine</text>
<text x="0.00" y="0.00" font-size="11" text-anchor="end" font-weight="normal" fill="#000" transform="translate(106.20,176.90) rotate(-45)" >IFNy</text>
<text x="0.00" y="0.00" font-size="11" text-anchor="end" font-weight="normal" fill="#000" transform="translate(123.00,176.90) rotate(-45)" >IL-10</text>
<text x="0.00" y="0.00" font-size="11" text-anchor="end" font-weight="normal" fill="#000" transform="translate(139.80,176.90) rotate(-45)" >MIP-3a</text>
<text x="0.00" y="0.00" font-size="11" text-anchor="end" font-weight="normal" fill="#000" transform="translate(156.60,176.90) rotate(-45)" >IL-12(p70)</text>
<text x="0.00" y="0.00" font-size="11" text-anchor="end" font-weight="normal" fill="#000" transform="translate(173.40,176.90) rotate(-45)" >IL-13</text>
<text x="0.00" y="0.00" font-size="11" text-anchor="end" font-weight="normal" fill="#000" transform="translate(190.20,176.90) rotate(-45)" >IL-17A</text>
<text x="0.00" y="0.00" font-size="11" text-anchor="end" font-weight="normal" fill="#000" transform="translate(207.00,176.90) rotate(-45)" >IL-1b</text>
<text x="0.00" y="0.00" font-size="11" text-anchor="end" font-weight="normal" fill="#000" transform="translate(223.80,176.90) rotate(-45)" >IL-2</text>
<text x="0.00" y="0.00" font-size="11" text-anchor="end" font-weight="normal" fill="#000" transform="translate(240.60,176.90) rotate(-45)" >IL-21</text>
<text x="0.00" y="0.00" font-size="11" text-anchor="end" font-weight="normal" fill="#000" transform="translate(257.40,176.90) rotate(-45)" >IL-4</text>
<text x="0.00" y="0.00" font-size="11" text-anchor="end" font-weight="normal" fill="#000" transform="translate(274.20,176.90) rotate(-45)" >IL-23</text>
<text x="0.00" y="0.00" font-size="11" text-anchor="end" font-weight="normal" fill="#000" transform="translate(291.00,176.90) rotate(-45)" >IL-5</text>
<text x="0.00" y="0.00" font-size="11" text-anchor="end" font-weight="normal" fill="#000" transform="translate(307.80,176.90) rotate(-45)" >IL-6</text>
<text x="0.00" y="0.00" font-size="11" text-anchor="end" font-weight="normal" fill="#000" transform="translate(324.60,176.90) rotate(-45)" >IL-7</text>
<text x="0.00" y="0.00" font-size="11" text-anchor="end" font-weight="normal" fill="#000" transform="translate(341.40,176.90) rotate(-45)" >IL-8</text>
<text x="0.00" y="0.00" font-size="11" text-anchor="end" font-weight="normal" fill="#000" transform="translate(358.20,176.90) rotate(-45)" >MIP-1a</text>
<text x="0.00" y="0.00" font-size="11" text-anchor="end" font-weight="normal" fill="#000" transform="translate(375.00,176.90) rotate(-45)" >TNFa</text>
<rect x="325.30" y="20.80" width="18.60" height="147.60" fill="none" stroke="#f02010" stroke-width="2.6" />
<defs><linearGradient id="cbA" x1="0" y1="1" x2="0" y2="0"><stop offset="0.0" stop-color="#1f4682"/><stop offset="0.05" stop-color="#2d548b"/><stop offset="0.1" stop-color="#3a6293"/><stop offset="0.15" stop-color="#48709c"/><stop offset="0.2" stop-color="#6385a8"/><stop offset="0.25" stop-color="#7d99b5"/><stop offset="0.3" stop-color="#98aec1"/><stop offset="0.35" stop-color="#b2c2ce"/><stop offset="0.4" stop-color="#ccd5db"/><stop offset="0.45" stop-color="#e2e6e3"/><stop offset="0.5" stop-color="#f7f5e8"/><stop offset="0.55" stop-color="#f4e6dc"/><stop offset="0.6" stop-color="#f1d8d0"/><stop offset="0.65" stop-color="#e9c1ba"/><stop offset="0.7" stop-color="#dda49f"/><stop offset="0.75" stop-color="#d28784"/><stop offset="0.8" stop-color="#c66a68"/><stop offset="0.85" stop-color="#be5758"/><stop offset="0.9" stop-color="#b64447"/><stop offset="0.95" stop-color="#ad3137"/><stop offset="1.0" stop-color="#a51e26"/></linearGradient></defs>
<rect x="413.30" y="26.70" width="15.00" height="116.00" fill="url(#cbA)" stroke="none" stroke-width="1" />
<line x1="428.80" y1="26.70" x2="428.80" y2="142.70" stroke="#555" stroke-width="0.8" />
<line x1="428.80" y1="26.70" x2="431.00" y2="26.70" stroke="#555" stroke-width="0.8" />
<text x="431.00" y="29.90" font-size="9.0" text-anchor="start" font-weight="normal" fill="#222" >1.00</text>
<line x1="428.80" y1="49.90" x2="431.00" y2="49.90" stroke="#555" stroke-width="0.8" />
<text x="431.00" y="53.10" font-size="9.0" text-anchor="start" font-weight="normal" fill="#222" >0.80</text>
<line x1="428.80" y1="73.10" x2="431.00" y2="73.10" stroke="#555" stroke-width="0.8" />
<text x="431.00" y="76.30" font-size="9.0" text-anchor="start" font-weight="normal" fill="#222" >0.60</text>
<line x1="428.80" y1="96.30" x2="431.00" y2="96.30" stroke="#555" stroke-width="0.8" />
<text x="431.00" y="99.50" font-size="9.0" text-anchor="start" font-weight="normal" fill="#222" >0.40</text>
<line x1="428.80" y1="119.50" x2="431.00" y2="119.50" stroke="#555" stroke-width="0.8" />
<text x="431.00" y="122.70" font-size="9.0" text-anchor="start" font-weight="normal" fill="#222" >0.20</text>
<line x1="428.80" y1="142.70" x2="431.00" y2="142.70" stroke="#555" stroke-width="0.8" />
<text x="431.00" y="145.90" font-size="9.0" text-anchor="start" font-weight="normal" fill="#222" >0.00</text>
<line x1="498.20" y1="45.40" x2="498.20" y2="133.50" stroke="#222" stroke-width="1.1" />
<line x1="497.70" y1="133.00" x2="557.20" y2="133.00" stroke="#222" stroke-width="1.1" />
<line x1="495.20" y1="45.40" x2="498.20" y2="45.40" stroke="#222" stroke-width="1.0" />
<text x="494.60" y="47.74" font-size="6.5" text-anchor="end" font-weight="bold" fill="#222" >2000</text>
<line x1="495.20" y1="67.30" x2="498.20" y2="67.30" stroke="#222" stroke-width="1.0" />
<text x="494.60" y="69.64" font-size="6.5" text-anchor="end" font-weight="bold" fill="#222" >1500</text>
<line x1="495.20" y1="89.20" x2="498.20" y2="89.20" stroke="#222" stroke-width="1.0" />
<text x="494.60" y="91.54" font-size="6.5" text-anchor="end" font-weight="bold" fill="#222" >1000</text>
<line x1="495.20" y1="111.10" x2="498.20" y2="111.10" stroke="#222" stroke-width="1.0" />
<text x="494.60" y="113.44" font-size="6.5" text-anchor="end" font-weight="bold" fill="#222" >500</text>
<line x1="495.20" y1="133.00" x2="498.20" y2="133.00" stroke="#222" stroke-width="1.0" />
<text x="494.60" y="135.34" font-size="6.5" text-anchor="end" font-weight="bold" fill="#222" >0</text>
<path d="M508.15,133.00 L508.15,78.05 L522.85,78.05 L522.85,133.00" fill="none" stroke="#b3262b" stroke-width="1.9"/>
<line x1="515.50" y1="133.00" x2="515.50" y2="136.00" stroke="#222" stroke-width="1.0" />
<line x1="515.60" y1="72.30" x2="515.60" y2="80.00" stroke="#b3262b" stroke-width="1.0" />
<line x1="511.45" y1="72.30" x2="519.75" y2="72.30" stroke="#b3262b" stroke-width="1.0" />
<line x1="511.45" y1="80.00" x2="519.75" y2="80.00" stroke="#b3262b" stroke-width="1.0" />
<circle cx="515.80" cy="71.00" r="1.35" fill="#b3262b"/>
<circle cx="515.80" cy="75.80" r="1.35" fill="#b3262b"/>
<circle cx="513.00" cy="80.80" r="1.35" fill="#b3262b"/>
<circle cx="518.40" cy="80.80" r="1.35" fill="#b3262b"/>
<path d="M533.15,133.00 L533.15,69.25 L547.95,69.25 L547.95,133.00" fill="none" stroke="#2424a6" stroke-width="1.9"/>
<line x1="540.55" y1="133.00" x2="540.55" y2="136.00" stroke="#222" stroke-width="1.0" />
<line x1="541.10" y1="66.60" x2="541.10" y2="70.00" stroke="#2424a6" stroke-width="1.0" />
<line x1="536.75" y1="66.60" x2="545.45" y2="66.60" stroke="#2424a6" stroke-width="1.0" />
<line x1="536.75" y1="70.00" x2="545.45" y2="70.00" stroke="#2424a6" stroke-width="1.0" />
<circle cx="535.50" cy="70.00" r="1.35" fill="#2424a6"/>
<circle cx="540.70" cy="67.90" r="1.35" fill="#2424a6"/>
<circle cx="546.20" cy="66.00" r="1.35" fill="#2424a6"/>
<line x1="516.20" y1="55.70" x2="540.70" y2="55.70" stroke="#222" stroke-width="1.1" />
<text x="528.50" y="56.70" font-size="11.5" text-anchor="middle" font-weight="normal" fill="#222" >*</text>
<text x="0.00" y="0.00" font-size="7.4" text-anchor="middle" font-weight="bold" fill="#222" transform="translate(464.20,89.20) rotate(-90)" >Expression level of IL-8</text>
<text x="0.00" y="0.00" font-size="7.4" text-anchor="middle" font-weight="bold" fill="#222" transform="translate(473.60,89.20) rotate(-90)" >(S7<tspan font-size="4.8" dy="-2.6">+</tspan><tspan dy="2.6">NK-92MI) (pg/ml)</tspan></text>
<text x="516.00" y="143.80" font-size="6.5" text-anchor="middle" font-weight="bold" fill="#222" >NA</text>
<text x="540.40" y="143.80" font-size="6.5" text-anchor="middle" font-weight="bold" fill="#222" >CTRL</text>
<text x="568.00" y="19.10" font-size="23" text-anchor="start" font-weight="normal" fill="#000" >B</text>
<line x1="610.40" y1="44.50" x2="610.40" y2="134.30" stroke="#222" stroke-width="1.1" />
<line x1="609.90" y1="133.80" x2="669.00" y2="133.80" stroke="#222" stroke-width="1.1" />
<line x1="607.40" y1="44.50" x2="610.40" y2="44.50" stroke="#222" stroke-width="1.0" />
<text x="606.80" y="47.09" font-size="7.2" text-anchor="end" font-weight="bold" fill="#222" >1.5</text>
<line x1="607.40" y1="74.20" x2="610.40" y2="74.20" stroke="#222" stroke-width="1.0" />
<text x="606.80" y="76.79" font-size="7.2" text-anchor="end" font-weight="bold" fill="#222" >1.0</text>
<line x1="607.40" y1="103.90" x2="610.40" y2="103.90" stroke="#222" stroke-width="1.0" />
<text x="606.80" y="106.49" font-size="7.2" text-anchor="end" font-weight="bold" fill="#222" >0.5</text>
<line x1="607.40" y1="133.80" x2="610.40" y2="133.80" stroke="#222" stroke-width="1.0" />
<text x="606.80" y="136.39" font-size="7.2" text-anchor="end" font-weight="bold" fill="#222" >0.0</text>
<path d="M619.55,133.80 L619.55,73.45 L634.25,73.45 L634.25,133.80" fill="none" stroke="#b3262b" stroke-width="1.9"/>
<line x1="626.90" y1="133.80" x2="626.90" y2="136.80" stroke="#222" stroke-width="1.0" />
<line x1="627.00" y1="53.30" x2="627.00" y2="90.40" stroke="#b3262b" stroke-width="1.0" />
<line x1="622.60" y1="53.30" x2="631.40" y2="53.30" stroke="#b3262b" stroke-width="1.0" />
<line x1="622.60" y1="90.40" x2="631.40" y2="90.40" stroke="#b3262b" stroke-width="1.0" />
<circle cx="627.00" cy="56.00" r="1.35" fill="#b3262b"/>
<circle cx="627.00" cy="68.00" r="1.35" fill="#b3262b"/>
<circle cx="627.00" cy="92.40" r="1.35" fill="#b3262b"/>
<path d="M644.95,133.80 L644.95,70.65 L659.65,70.65 L659.65,133.80" fill="none" stroke="#2424a6" stroke-width="1.9"/>
<line x1="652.30" y1="133.80" x2="652.30" y2="136.80" stroke="#222" stroke-width="1.0" />
<line x1="652.20" y1="50.40" x2="652.20" y2="88.30" stroke="#2424a6" stroke-width="1.0" />
<line x1="647.80" y1="50.40" x2="656.60" y2="50.40" stroke="#2424a6" stroke-width="1.0" />
<line x1="647.80" y1="88.30" x2="656.60" y2="88.30" stroke="#2424a6" stroke-width="1.0" />
<circle cx="652.20" cy="55.00" r="1.35" fill="#2424a6"/>
<circle cx="652.20" cy="62.70" r="1.35" fill="#2424a6"/>
<circle cx="652.20" cy="91.20" r="1.35" fill="#2424a6"/>
<line x1="627.40" y1="39.80" x2="652.20" y2="39.80" stroke="#222" stroke-width="1.1" />
<text x="639.50" y="35.50" font-size="6.5" text-anchor="middle" font-weight="bold" fill="#222" >ns</text>
<text x="0.00" y="0.00" font-size="7.5" text-anchor="middle" font-weight="bold" fill="#222" transform="translate(580.20,88.90) rotate(-90)" >Ratio of relative mRNA expression</text>
<text x="0.00" y="0.00" font-size="7.5" text-anchor="middle" font-weight="bold" fill="#222" transform="translate(591.80,88.90) rotate(-90)" >of CXCL8 (S7<tspan font-size="4.8" dy="-2.6">+</tspan><tspan dy="2.6">NK-92MI)</tspan></text>
<text x="627.00" y="145.00" font-size="6.5" text-anchor="middle" font-weight="bold" fill="#222" >NA</text>
<text x="652.20" y="145.00" font-size="6.5" text-anchor="middle" font-weight="bold" fill="#222" >CTRL</text>
<text x="0.40" y="237.60" font-size="23" text-anchor="start" font-weight="normal" fill="#000" >C</text>
<line x1="82.35" y1="245.00" x2="82.35" y2="451.00" stroke="#ebebeb" stroke-width="0.6" />
<line x1="112.60" y1="245.00" x2="112.60" y2="451.00" stroke="#ebebeb" stroke-width="0.6" />
<line x1="142.85" y1="245.00" x2="142.85" y2="451.00" stroke="#ebebeb" stroke-width="0.6" />
<line x1="173.10" y1="245.00" x2="173.10" y2="451.00" stroke="#ebebeb" stroke-width="0.6" />
<line x1="203.35" y1="245.00" x2="203.35" y2="451.00" stroke="#ebebeb" stroke-width="0.6" />
<line x1="233.60" y1="245.00" x2="233.60" y2="451.00" stroke="#ebebeb" stroke-width="0.6" />
<line x1="263.85" y1="245.00" x2="263.85" y2="451.00" stroke="#ebebeb" stroke-width="0.6" />
<line x1="294.10" y1="245.00" x2="294.10" y2="451.00" stroke="#ebebeb" stroke-width="0.6" />
<line x1="324.35" y1="245.00" x2="324.35" y2="451.00" stroke="#ebebeb" stroke-width="0.6" />
<line x1="49.30" y1="245.70" x2="51.50" y2="245.70" stroke="#333" stroke-width="0.6" />
<text x="48.90" y="247.70" font-size="6.0" text-anchor="end" font-weight="normal" fill="#3a3a3a" >0.50</text>
<line x1="49.30" y1="269.60" x2="51.50" y2="269.60" stroke="#333" stroke-width="0.6" />
<text x="48.90" y="271.60" font-size="6.0" text-anchor="end" font-weight="normal" fill="#3a3a3a" >0.25</text>
<line x1="49.30" y1="293.80" x2="51.50" y2="293.80" stroke="#333" stroke-width="0.6" />
<text x="48.90" y="295.80" font-size="6.0" text-anchor="end" font-weight="normal" fill="#3a3a3a" >0.00</text>
<line x1="49.30" y1="318.30" x2="51.50" y2="318.30" stroke="#333" stroke-width="0.6" />
<text x="48.90" y="320.30" font-size="6.0" text-anchor="end" font-weight="normal" fill="#3a3a3a" >0.25</text>
<line x1="49.30" y1="342.60" x2="51.50" y2="342.60" stroke="#333" stroke-width="0.6" />
<text x="48.90" y="344.60" font-size="6.0" text-anchor="end" font-weight="normal" fill="#3a3a3a" >0.50</text>
<line x1="49.30" y1="384.00" x2="51.50" y2="384.00" stroke="#333" stroke-width="0.6" />
<text x="48.90" y="386.00" font-size="6.0" text-anchor="end" font-weight="normal" fill="#3a3a3a" >6</text>
<line x1="49.30" y1="400.50" x2="51.50" y2="400.50" stroke="#333" stroke-width="0.6" />
<text x="48.90" y="402.50" font-size="6.0" text-anchor="end" font-weight="normal" fill="#3a3a3a" >3</text>
<line x1="49.30" y1="417.00" x2="51.50" y2="417.00" stroke="#333" stroke-width="0.6" />
<text x="48.90" y="419.00" font-size="6.0" text-anchor="end" font-weight="normal" fill="#3a3a3a" >0</text>
<line x1="49.30" y1="434.00" x2="51.50" y2="434.00" stroke="#333" stroke-width="0.6" />
<text x="48.90" y="436.00" font-size="6.0" text-anchor="end" font-weight="normal" fill="#3a3a3a" >−3</text>
<line x1="49.30" y1="450.40" x2="51.50" y2="450.40" stroke="#333" stroke-width="0.6" />
<text x="48.90" y="452.40" font-size="6.0" text-anchor="end" font-weight="normal" fill="#3a3a3a" >−6</text>
<path d="M52,417.4 L52.0,389.5 L52.8,391.5 L55.2,395.7 L60.4,398.8 L68.3,402.3 L76.2,406.2 L84.1,408 L94.6,410.9 L105.1,413.3 L115.6,414.6 L131.4,415.9 L147.1,416.5 L168.2,416.8 L184.5,417.0 L184.5,417.4 Z" fill="#bebebe"/>
<path d="M211,417 L211,417.3 L250,417.6 L294.2,418.6 L305,420.5 L314,423.4 L320,425.5 L326.5,428.4 L333,432 L338.9,437 L342,440.5 L345.1,447 L346.3,449.5 L346.3,417 Z" fill="#bebebe"/>
<line x1="51.50" y1="245.00" x2="51.50" y2="451.50" stroke="#1a1a1a" stroke-width="1.0" />
<line x1="51.50" y1="451.20" x2="346.30" y2="451.20" stroke="#1a1a1a" stroke-width="1.0" />
<line x1="112.50" y1="451.20" x2="112.50" y2="453.00" stroke="#333" stroke-width="0.6" />
<text x="112.50" y="459.40" font-size="5.6" text-anchor="middle" font-weight="normal" fill="#3a3a3a" >5000</text>
<line x1="172.90" y1="451.20" x2="172.90" y2="453.00" stroke="#333" stroke-width="0.6" />
<text x="172.90" y="459.40" font-size="5.6" text-anchor="middle" font-weight="normal" fill="#3a3a3a" >10000</text>
<line x1="233.90" y1="451.20" x2="233.90" y2="453.00" stroke="#333" stroke-width="0.6" />
<text x="233.90" y="459.40" font-size="5.6" text-anchor="middle" font-weight="normal" fill="#3a3a3a" >15000</text>
<line x1="294.30" y1="451.20" x2="294.30" y2="453.00" stroke="#333" stroke-width="0.6" />
<text x="294.30" y="459.40" font-size="5.6" text-anchor="middle" font-weight="normal" fill="#3a3a3a" >20000</text>
<text x="199.00" y="467.70" font-size="7.3" text-anchor="middle" font-weight="normal" fill="#1a1a1a" >Rank in Ordered Dataset</text>
<text x="0.00" y="0.00" font-size="7.3" text-anchor="middle" font-weight="normal" fill="#1a1a1a" transform="translate(29.80,294.30) rotate(-90)" >Running Enrichment Score</text>
<text x="0.00" y="0.00" font-size="7.3" text-anchor="middle" font-weight="normal" fill="#1a1a1a" transform="translate(29.80,417.00) rotate(-90)" >Ranked List Metric</text>
<line x1="53.9" y1="347.7" x2="53.9" y2="358.6" stroke="#E64B35" stroke-width="0.9" stroke-opacity="0.75"/>
<line x1="55.5" y1="347.7" x2="55.5" y2="358.6" stroke="#E64B35" stroke-width="0.9" stroke-opacity="0.91"/>
<line x1="58.8" y1="347.7" x2="58.8" y2="358.6" stroke="#E64B35" stroke-width="0.9" stroke-opacity="0.97"/>
<line x1="67.5" y1="347.7" x2="67.5" y2="358.6" stroke="#E64B35" stroke-width="0.9" stroke-opacity="0.76"/>
<line x1="68.6" y1="347.7" x2="68.6" y2="358.6" stroke="#E64B35" stroke-width="0.9" stroke-opacity="0.82"/>
<line x1="71.2" y1="347.7" x2="71.2" y2="358.6" stroke="#E64B35" stroke-width="0.9" stroke-opacity="0.82"/>
<line x1="72.3" y1="347.7" x2="72.3" y2="358.6" stroke="#E64B35" stroke-width="0.9" stroke-opacity="0.88"/>
<line x1="73.6" y1="347.7" x2="73.6" y2="358.6" stroke="#E64B35" stroke-width="0.9" stroke-opacity="0.86"/>
<line x1="80" y1="347.7" x2="80" y2="358.6" stroke="#E64B35" stroke-width="0.9" stroke-opacity="0.87"/>
<line x1="80.7" y1="347.7" x2="80.7" y2="358.6" stroke="#E64B35" stroke-width="0.9" stroke-opacity="0.94"/>
<line x1="85" y1="347.7" x2="85" y2="358.6" stroke="#E64B35" stroke-width="0.9" stroke-opacity="0.75"/>
<line x1="86.25" y1="347.7" x2="86.25" y2="358.6" stroke="#E64B35" stroke-width="0.9" stroke-opacity="0.76"/>
<line x1="87.5" y1="347.7" x2="87.5" y2="358.6" stroke="#E64B35" stroke-width="0.9" stroke-opacity="0.78"/>
<line x1="88.75" y1="347.7" x2="88.75" y2="358.6" stroke="#E64B35" stroke-width="0.9" stroke-opacity="0.78"/>
<line x1="90.0" y1="347.7" x2="90.0" y2="358.6" stroke="#E64B35" stroke-width="0.9" stroke-opacity="0.77"/>
<line x1="93.75" y1="347.7" x2="93.75" y2="358.6" stroke="#E64B35" stroke-width="0.9" stroke-opacity="0.99"/>
<line x1="95.0" y1="347.7" x2="95.0" y2="358.6" stroke="#E64B35" stroke-width="0.9" stroke-opacity="0.96"/>
<line x1="96.25" y1="347.7" x2="96.25" y2="358.6" stroke="#E64B35" stroke-width="0.9" stroke-opacity="0.77"/>
<line x1="97.5" y1="347.7" x2="97.5" y2="358.6" stroke="#E64B35" stroke-width="0.9" stroke-opacity="0.88"/>
<line x1="98.75" y1="347.7" x2="98.75" y2="358.6" stroke="#E64B35" stroke-width="0.9" stroke-opacity="0.83"/>
<line x1="100.0" y1="347.7" x2="100.0" y2="358.6" stroke="#E64B35" stroke-width="0.9" stroke-opacity="0.83"/>
<line x1="101.25" y1="347.7" x2="101.25" y2="358.6" stroke="#E64B35" stroke-width="0.9" stroke-opacity="0.84"/>
<line x1="102.5" y1="347.7" x2="102.5" y2="358.6" stroke="#E64B35" stroke-width="0.9" stroke-opacity="0.91"/>
<line x1="103.75" y1="347.7" x2="103.75" y2="358.6" stroke="#E64B35" stroke-width="0.9" stroke-opacity="0.90"/>
<line x1="105.0" y1="347.7" x2="105.0" y2="358.6" stroke="#E64B35" stroke-width="0.9" stroke-opacity="0.84"/>
<line x1="106.25" y1="347.7" x2="106.25" y2="358.6" stroke="#E64B35" stroke-width="0.9" stroke-opacity="0.80"/>
<line x1="107.5" y1="347.7" x2="107.5" y2="358.6" stroke="#E64B35" stroke-width="0.9" stroke-opacity="0.83"/>
<line x1="108.75" y1="347.7" x2="108.75" y2="358.6" stroke="#E64B35" stroke-width="0.9" stroke-opacity="0.78"/>
<line x1="110.0" y1="347.7" x2="110.0" y2="358.6" stroke="#E64B35" stroke-width="0.9" stroke-opacity="0.89"/>
<line x1="112.5" y1="347.7" x2="112.5" y2="358.6" stroke="#E64B35" stroke-width="0.9" stroke-opacity="0.93"/>
<line x1="113.75" y1="347.7" x2="113.75" y2="358.6" stroke="#E64B35" stroke-width="0.9" stroke-opacity="0.85"/>
<line x1="115.0" y1="347.7" x2="115.0" y2="358.6" stroke="#E64B35" stroke-width="0.9" stroke-opacity="0.77"/>
<line x1="117.9" y1="347.7" x2="117.9" y2="358.6" stroke="#E64B35" stroke-width="0.9" stroke-opacity="0.79"/>
<line x1="119" y1="347.7" x2="119" y2="358.6" stroke="#E64B35" stroke-width="0.9" stroke-opacity="0.84"/>
<line x1="120.5" y1="347.7" x2="120.5" y2="358.6" stroke="#E64B35" stroke-width="0.9" stroke-opacity="0.90"/>
<line x1="122" y1="347.7" x2="122" y2="358.6" stroke="#E64B35" stroke-width="0.9" stroke-opacity="0.95"/>
<line x1="123.2" y1="347.7" x2="123.2" y2="358.6" stroke="#E64B35" stroke-width="0.9" stroke-opacity="0.85"/>
<line x1="124.4" y1="347.7" x2="124.4" y2="358.6" stroke="#E64B35" stroke-width="0.9" stroke-opacity="0.95"/>
<line x1="127.7" y1="347.7" x2="127.7" y2="358.6" stroke="#E64B35" stroke-width="0.9" stroke-opacity="0.91"/>
<line x1="128.8" y1="347.7" x2="128.8" y2="358.6" stroke="#E64B35" stroke-width="0.9" stroke-opacity="0.86"/>
<line x1="129.9" y1="347.7" x2="129.9" y2="358.6" stroke="#E64B35" stroke-width="0.9" stroke-opacity="0.84"/>
<line x1="133.2" y1="347.7" x2="133.2" y2="358.6" stroke="#E64B35" stroke-width="0.9" stroke-opacity="0.87"/>
<line x1="134.5" y1="347.7" x2="134.5" y2="358.6" stroke="#E64B35" stroke-width="0.9" stroke-opacity="0.93"/>
<line x1="135.5" y1="347.7" x2="135.5" y2="358.6" stroke="#E64B35" stroke-width="0.9" stroke-opacity="0.86"/>
<line x1="136.5" y1="347.7" x2="136.5" y2="358.6" stroke="#E64B35" stroke-width="0.9" stroke-opacity="0.92"/>
<line x1="145.3" y1="347.7" x2="145.3" y2="358.6" stroke="#E64B35" stroke-width="0.9" stroke-opacity="0.87"/>
<line x1="146.6" y1="347.7" x2="146.6" y2="358.6" stroke="#E64B35" stroke-width="0.9" stroke-opacity="0.81"/>
<line x1="147.9" y1="347.7" x2="147.9" y2="358.6" stroke="#E64B35" stroke-width="0.9" stroke-opacity="0.88"/>
<line x1="149.2" y1="347.7" x2="149.2" y2="358.6" stroke="#E64B35" stroke-width="0.9" stroke-opacity="0.92"/>
<line x1="150.5" y1="347.7" x2="150.5" y2="358.6" stroke="#E64B35" stroke-width="0.9" stroke-opacity="0.77"/>
<line x1="151.8" y1="347.7" x2="151.8" y2="358.6" stroke="#E64B35" stroke-width="0.9" stroke-opacity="0.86"/>
<line x1="156.8" y1="347.7" x2="156.8" y2="358.6" stroke="#E64B35" stroke-width="0.9" stroke-opacity="0.86"/>
<line x1="158.2" y1="347.7" x2="158.2" y2="358.6" stroke="#E64B35" stroke-width="0.9" stroke-opacity="0.97"/>
<line x1="160.4" y1="347.7" x2="160.4" y2="358.6" stroke="#E64B35" stroke-width="0.9" stroke-opacity="0.98"/>
<line x1="161.7" y1="347.7" x2="161.7" y2="358.6" stroke="#E64B35" stroke-width="0.9" stroke-opacity="0.84"/>
<line x1="163.0" y1="347.7" x2="163.0" y2="358.6" stroke="#E64B35" stroke-width="0.9" stroke-opacity="0.97"/>
<line x1="164.3" y1="347.7" x2="164.3" y2="358.6" stroke="#E64B35" stroke-width="0.9" stroke-opacity="0.95"/>
<line x1="165.6" y1="347.7" x2="165.6" y2="358.6" stroke="#E64B35" stroke-width="0.9" stroke-opacity="0.82"/>
<line x1="170.7" y1="347.7" x2="170.7" y2="358.6" stroke="#E64B35" stroke-width="0.9" stroke-opacity="0.87"/>
<line x1="171.4" y1="347.7" x2="171.4" y2="358.6" stroke="#E64B35" stroke-width="0.9" stroke-opacity="0.78"/>
<line x1="175" y1="347.7" x2="175" y2="358.6" stroke="#E64B35" stroke-width="0.9" stroke-opacity="0.95"/>
<line x1="176.2" y1="347.7" x2="176.2" y2="358.6" stroke="#E64B35" stroke-width="0.9" stroke-opacity="0.92"/>
<line x1="177.5" y1="347.7" x2="177.5" y2="358.6" stroke="#E64B35" stroke-width="0.9" stroke-opacity="0.97"/>
<line x1="178.7" y1="347.7" x2="178.7" y2="358.6" stroke="#E64B35" stroke-width="0.9" stroke-opacity="0.95"/>
<line x1="182.3" y1="347.7" x2="182.3" y2="358.6" stroke="#E64B35" stroke-width="0.9" stroke-opacity="0.92"/>
<line x1="183.5" y1="347.7" x2="183.5" y2="358.6" stroke="#E64B35" stroke-width="0.9" stroke-opacity="0.93"/>
<line x1="184.8" y1="347.7" x2="184.8" y2="358.6" stroke="#E64B35" stroke-width="0.9" stroke-opacity="0.89"/>
<line x1="186" y1="347.7" x2="186" y2="358.6" stroke="#E64B35" stroke-width="0.9" stroke-opacity="0.78"/>
<line x1="186.7" y1="347.7" x2="186.7" y2="358.6" stroke="#E64B35" stroke-width="0.9" stroke-opacity="0.90"/>
<line x1="191" y1="347.7" x2="191" y2="358.6" stroke="#E64B35" stroke-width="0.9" stroke-opacity="0.75"/>
<line x1="191.8" y1="347.7" x2="191.8" y2="358.6" stroke="#E64B35" stroke-width="0.9" stroke-opacity="0.79"/>
<line x1="192.6" y1="347.7" x2="192.6" y2="358.6" stroke="#E64B35" stroke-width="0.9" stroke-opacity="0.94"/>
<line x1="194.7" y1="347.7" x2="194.7" y2="358.6" stroke="#E64B35" stroke-width="0.9" stroke-opacity="0.76"/>
<line x1="198.4" y1="347.7" x2="198.4" y2="358.6" stroke="#E64B35" stroke-width="0.9" stroke-opacity="0.77"/>
<line x1="199.2" y1="347.7" x2="199.2" y2="358.6" stroke="#E64B35" stroke-width="0.9" stroke-opacity="0.77"/>
<line x1="199.9" y1="347.7" x2="199.9" y2="358.6" stroke="#E64B35" stroke-width="0.9" stroke-opacity="0.97"/>
<line x1="204" y1="347.7" x2="204" y2="358.6" stroke="#E64B35" stroke-width="0.9" stroke-opacity="0.79"/>
<line x1="205.2" y1="347.7" x2="205.2" y2="358.6" stroke="#E64B35" stroke-width="0.9" stroke-opacity="0.76"/>
<line x1="207.4" y1="347.7" x2="207.4" y2="358.6" stroke="#E64B35" stroke-width="0.9" stroke-opacity="0.96"/>
<line x1="209.7" y1="347.7" x2="209.7" y2="358.6" stroke="#E64B35" stroke-width="0.9" stroke-opacity="0.78"/>
<line x1="218.8" y1="347.7" x2="218.8" y2="358.6" stroke="#E64B35" stroke-width="0.9" stroke-opacity="0.96"/>
<line x1="219.9" y1="347.7" x2="219.9" y2="358.6" stroke="#E64B35" stroke-width="0.9" stroke-opacity="0.92"/>
<line x1="222.2" y1="347.7" x2="222.2" y2="358.6" stroke="#E64B35" stroke-width="0.9" stroke-opacity="0.96"/>
<line x1="224.4" y1="347.7" x2="224.4" y2="358.6" stroke="#E64B35" stroke-width="0.9" stroke-opacity="0.99"/>
<line x1="226.7" y1="347.7" x2="226.7" y2="358.6" stroke="#E64B35" stroke-width="0.9" stroke-opacity="0.89"/>
<line x1="230.1" y1="347.7" x2="230.1" y2="358.6" stroke="#E64B35" stroke-width="0.9" stroke-opacity="0.95"/>
<line x1="231.2" y1="347.7" x2="231.2" y2="358.6" stroke="#E64B35" stroke-width="0.9" stroke-opacity="0.76"/>
<line x1="238" y1="347.7" x2="238" y2="358.6" stroke="#E64B35" stroke-width="0.9" stroke-opacity="0.94"/>
<line x1="239.1" y1="347.7" x2="239.1" y2="358.6" stroke="#E64B35" stroke-width="0.9" stroke-opacity="0.88"/>
<line x1="242.5" y1="347.7" x2="242.5" y2="358.6" stroke="#E64B35" stroke-width="0.9" stroke-opacity="0.93"/>
<line x1="243.7" y1="347.7" x2="243.7" y2="358.6" stroke="#E64B35" stroke-width="0.9" stroke-opacity="0.78"/>
<line x1="244.8" y1="347.7" x2="244.8" y2="358.6" stroke="#E64B35" stroke-width="0.9" stroke-opacity="0.94"/>
<line x1="245.9" y1="347.7" x2="245.9" y2="358.6" stroke="#E64B35" stroke-width="0.9" stroke-opacity="0.98"/>
<line x1="251.6" y1="347.7" x2="251.6" y2="358.6" stroke="#E64B35" stroke-width="0.9" stroke-opacity="0.77"/>
<line x1="252.7" y1="347.7" x2="252.7" y2="358.6" stroke="#E64B35" stroke-width="0.9" stroke-opacity="0.83"/>
<line x1="255" y1="347.7" x2="255" y2="358.6" stroke="#E64B35" stroke-width="0.9" stroke-opacity="0.89"/>
<line x1="256.1" y1="347.7" x2="256.1" y2="358.6" stroke="#E64B35" stroke-width="0.9" stroke-opacity="0.96"/>
<line x1="257.2" y1="347.7" x2="257.2" y2="358.6" stroke="#E64B35" stroke-width="0.9" stroke-opacity="0.81"/>
<line x1="258.4" y1="347.7" x2="258.4" y2="358.6" stroke="#E64B35" stroke-width="0.9" stroke-opacity="0.79"/>
<line x1="260.6" y1="347.7" x2="260.6" y2="358.6" stroke="#E64B35" stroke-width="0.9" stroke-opacity="0.81"/>
<line x1="261.8" y1="347.7" x2="261.8" y2="358.6" stroke="#E64B35" stroke-width="0.9" stroke-opacity="0.90"/>
<line x1="262.9" y1="347.7" x2="262.9" y2="358.6" stroke="#E64B35" stroke-width="0.9" stroke-opacity="0.94"/>
<line x1="264" y1="347.7" x2="264" y2="358.6" stroke="#E64B35" stroke-width="0.9" stroke-opacity="0.85"/>
<line x1="265.2" y1="347.7" x2="265.2" y2="358.6" stroke="#E64B35" stroke-width="0.9" stroke-opacity="0.84"/>
<line x1="266.3" y1="347.7" x2="266.3" y2="358.6" stroke="#E64B35" stroke-width="0.9" stroke-opacity="0.85"/>
<line x1="270.8" y1="347.7" x2="270.8" y2="358.6" stroke="#E64B35" stroke-width="0.9" stroke-opacity="0.84"/>
<line x1="271.9" y1="347.7" x2="271.9" y2="358.6" stroke="#E64B35" stroke-width="0.9" stroke-opacity="0.85"/>
<line x1="273.1" y1="347.7" x2="273.1" y2="358.6" stroke="#E64B35" stroke-width="0.9" stroke-opacity="0.77"/>
<line x1="275.3" y1="347.7" x2="275.3" y2="358.6" stroke="#E64B35" stroke-width="0.9" stroke-opacity="0.88"/>
<line x1="276.5" y1="347.7" x2="276.5" y2="358.6" stroke="#E64B35" stroke-width="0.9" stroke-opacity="0.99"/>
<line x1="281" y1="347.7" x2="281" y2="358.6" stroke="#E64B35" stroke-width="0.9" stroke-opacity="0.85"/>
<line x1="282.1" y1="347.7" x2="282.1" y2="358.6" stroke="#E64B35" stroke-width="0.9" stroke-opacity="0.94"/>
<line x1="284.4" y1="347.7" x2="284.4" y2="358.6" stroke="#E64B35" stroke-width="0.9" stroke-opacity="0.79"/>
<line x1="285.5" y1="347.7" x2="285.5" y2="358.6" stroke="#E64B35" stroke-width="0.9" stroke-opacity="0.92"/>
<line x1="286.6" y1="347.7" x2="286.6" y2="358.6" stroke="#E64B35" stroke-width="0.9" stroke-opacity="0.94"/>
<line x1="288.9" y1="347.7" x2="288.9" y2="358.6" stroke="#E64B35" stroke-width="0.9" stroke-opacity="0.92"/>
<line x1="290" y1="347.7" x2="290" y2="358.6" stroke="#E64B35" stroke-width="0.9" stroke-opacity="0.88"/>
<line x1="291.1" y1="347.7" x2="291.1" y2="358.6" stroke="#E64B35" stroke-width="0.9" stroke-opacity="0.87"/>
<line x1="292.3" y1="347.7" x2="292.3" y2="358.6" stroke="#E64B35" stroke-width="0.9" stroke-opacity="0.91"/>
<line x1="293.4" y1="347.7" x2="293.4" y2="358.6" stroke="#E64B35" stroke-width="0.9" stroke-opacity="0.97"/>
<line x1="294.5" y1="347.7" x2="294.5" y2="358.6" stroke="#E64B35" stroke-width="0.9" stroke-opacity="0.79"/>
<line x1="295.7" y1="347.7" x2="295.7" y2="358.6" stroke="#E64B35" stroke-width="0.9" stroke-opacity="0.77"/>
<line x1="301.4" y1="347.7" x2="301.4" y2="358.6" stroke="#E64B35" stroke-width="0.9" stroke-opacity="0.94"/>
<line x1="311.5" y1="347.7" x2="311.5" y2="358.6" stroke="#E64B35" stroke-width="0.9" stroke-opacity="0.98"/>
<line x1="312.7" y1="347.7" x2="312.7" y2="358.6" stroke="#E64B35" stroke-width="0.9" stroke-opacity="0.88"/>
<line x1="317.2" y1="347.7" x2="317.2" y2="358.6" stroke="#E64B35" stroke-width="0.9" stroke-opacity="0.86"/>
<line x1="318.3" y1="347.7" x2="318.3" y2="358.6" stroke="#E64B35" stroke-width="0.9" stroke-opacity="0.93"/>
<line x1="320.6" y1="347.7" x2="320.6" y2="358.6" stroke="#E64B35" stroke-width="0.9" stroke-opacity="0.80"/>
<line x1="337.6" y1="347.7" x2="337.6" y2="358.6" stroke="#E64B35" stroke-width="0.9" stroke-opacity="0.82"/>
<line x1="67.5" y1="359.2" x2="67.5" y2="370.2" stroke="#2FA37F" stroke-width="0.9" stroke-opacity="0.80"/>
<line x1="118.3" y1="359.2" x2="118.3" y2="370.2" stroke="#2FA37F" stroke-width="0.9" stroke-opacity="0.90"/>
<line x1="123.4" y1="359.2" x2="123.4" y2="370.2" stroke="#2FA37F" stroke-width="0.9" stroke-opacity="0.83"/>
<line x1="132.1" y1="359.2" x2="132.1" y2="370.2" stroke="#2FA37F" stroke-width="0.9" stroke-opacity="0.81"/>
<line x1="138.7" y1="359.2" x2="138.7" y2="370.2" stroke="#2FA37F" stroke-width="0.9" stroke-opacity="0.92"/>
<line x1="157.2" y1="359.2" x2="157.2" y2="370.2" stroke="#2FA37F" stroke-width="0.9" stroke-opacity="0.99"/>
<line x1="164.1" y1="359.2" x2="164.1" y2="370.2" stroke="#2FA37F" stroke-width="0.9" stroke-opacity="0.82"/>
<line x1="165.2" y1="359.2" x2="165.2" y2="370.2" stroke="#2FA37F" stroke-width="0.9" stroke-opacity="0.93"/>
<line x1="166.3" y1="359.2" x2="166.3" y2="370.2" stroke="#2FA37F" stroke-width="0.9" stroke-opacity="0.85"/>
<line x1="169.2" y1="359.2" x2="169.2" y2="370.2" stroke="#2FA37F" stroke-width="0.9" stroke-opacity="0.96"/>
<line x1="173.6" y1="359.2" x2="173.6" y2="370.2" stroke="#2FA37F" stroke-width="0.9" stroke-opacity="0.90"/>
<line x1="178" y1="359.2" x2="178" y2="370.2" stroke="#2FA37F" stroke-width="0.9" stroke-opacity="0.82"/>
<line x1="179.4" y1="359.2" x2="179.4" y2="370.2" stroke="#2FA37F" stroke-width="0.9" stroke-opacity="0.80"/>
<line x1="181.6" y1="359.2" x2="181.6" y2="370.2" stroke="#2FA37F" stroke-width="0.9" stroke-opacity="0.76"/>
<line x1="182.6" y1="359.2" x2="182.6" y2="370.2" stroke="#2FA37F" stroke-width="0.9" stroke-opacity="0.87"/>
<line x1="183.6" y1="359.2" x2="183.6" y2="370.2" stroke="#2FA37F" stroke-width="0.9" stroke-opacity="0.85"/>
<line x1="184.5" y1="359.2" x2="184.5" y2="370.2" stroke="#2FA37F" stroke-width="0.9" stroke-opacity="0.79"/>
<line x1="187.4" y1="359.2" x2="187.4" y2="370.2" stroke="#2FA37F" stroke-width="0.9" stroke-opacity="0.84"/>
<line x1="188.4" y1="359.2" x2="188.4" y2="370.2" stroke="#2FA37F" stroke-width="0.9" stroke-opacity="0.83"/>
<line x1="189.4" y1="359.2" x2="189.4" y2="370.2" stroke="#2FA37F" stroke-width="0.9" stroke-opacity="0.94"/>
<line x1="190.4" y1="359.2" x2="190.4" y2="370.2" stroke="#2FA37F" stroke-width="0.9" stroke-opacity="0.79"/>
<line x1="194.5" y1="359.2" x2="194.5" y2="370.2" stroke="#2FA37F" stroke-width="0.9" stroke-opacity="1.00"/>
<line x1="197.7" y1="359.2" x2="197.7" y2="370.2" stroke="#2FA37F" stroke-width="0.9" stroke-opacity="0.87"/>
<line x1="198.8" y1="359.2" x2="198.8" y2="370.2" stroke="#2FA37F" stroke-width="0.9" stroke-opacity="0.90"/>
<line x1="199.9" y1="359.2" x2="199.9" y2="370.2" stroke="#2FA37F" stroke-width="0.9" stroke-opacity="0.87"/>
<line x1="202.8" y1="359.2" x2="202.8" y2="370.2" stroke="#2FA37F" stroke-width="0.9" stroke-opacity="0.96"/>
<line x1="204.2" y1="359.2" x2="204.2" y2="370.2" stroke="#2FA37F" stroke-width="0.9" stroke-opacity="0.96"/>
<line x1="205.4" y1="359.2" x2="205.4" y2="370.2" stroke="#2FA37F" stroke-width="0.9" stroke-opacity="0.89"/>
<line x1="206.6" y1="359.2" x2="206.6" y2="370.2" stroke="#2FA37F" stroke-width="0.9" stroke-opacity="0.87"/>
<line x1="207.6" y1="359.2" x2="207.6" y2="370.2" stroke="#2FA37F" stroke-width="0.9" stroke-opacity="0.93"/>
<line x1="209.45" y1="359.2" x2="209.45" y2="370.2" stroke="#2FA37F" stroke-width="0.9" stroke-opacity="0.96"/>
<line x1="210.3" y1="359.2" x2="210.3" y2="370.2" stroke="#2FA37F" stroke-width="0.9" stroke-opacity="0.85"/>
<line x1="211.15" y1="359.2" x2="211.15" y2="370.2" stroke="#2FA37F" stroke-width="0.9" stroke-opacity="0.93"/>
<line x1="212.0" y1="359.2" x2="212.0" y2="370.2" stroke="#2FA37F" stroke-width="0.9" stroke-opacity="0.99"/>
<line x1="212.85" y1="359.2" x2="212.85" y2="370.2" stroke="#2FA37F" stroke-width="0.9" stroke-opacity="0.87"/>
<line x1="213.7" y1="359.2" x2="213.7" y2="370.2" stroke="#2FA37F" stroke-width="0.9" stroke-opacity="0.81"/>
<line x1="214.55" y1="359.2" x2="214.55" y2="370.2" stroke="#2FA37F" stroke-width="0.9" stroke-opacity="0.81"/>
<line x1="215.4" y1="359.2" x2="215.4" y2="370.2" stroke="#2FA37F" stroke-width="0.9" stroke-opacity="0.93"/>
<line x1="216.25" y1="359.2" x2="216.25" y2="370.2" stroke="#2FA37F" stroke-width="0.9" stroke-opacity="0.92"/>
<line x1="217.1" y1="359.2" x2="217.1" y2="370.2" stroke="#2FA37F" stroke-width="0.9" stroke-opacity="0.99"/>
<line x1="217.95" y1="359.2" x2="217.95" y2="370.2" stroke="#2FA37F" stroke-width="0.9" stroke-opacity="0.96"/>
<line x1="218.8" y1="359.2" x2="218.8" y2="370.2" stroke="#2FA37F" stroke-width="0.9" stroke-opacity="0.81"/>
<line x1="219.65" y1="359.2" x2="219.65" y2="370.2" stroke="#2FA37F" stroke-width="0.9" stroke-opacity="0.80"/>
<line x1="220.5" y1="359.2" x2="220.5" y2="370.2" stroke="#2FA37F" stroke-width="0.9" stroke-opacity="0.81"/>
<line x1="221.35" y1="359.2" x2="221.35" y2="370.2" stroke="#2FA37F" stroke-width="0.9" stroke-opacity="0.80"/>
<line x1="222.2" y1="359.2" x2="222.2" y2="370.2" stroke="#2FA37F" stroke-width="0.9" stroke-opacity="0.93"/>
<line x1="223.05" y1="359.2" x2="223.05" y2="370.2" stroke="#2FA37F" stroke-width="0.9" stroke-opacity="0.96"/>
<line x1="223.9" y1="359.2" x2="223.9" y2="370.2" stroke="#2FA37F" stroke-width="0.9" stroke-opacity="0.97"/>
<line x1="224.75" y1="359.2" x2="224.75" y2="370.2" stroke="#2FA37F" stroke-width="0.9" stroke-opacity="0.81"/>
<line x1="225.6" y1="359.2" x2="225.6" y2="370.2" stroke="#2FA37F" stroke-width="0.9" stroke-opacity="0.97"/>
<line x1="226.45" y1="359.2" x2="226.45" y2="370.2" stroke="#2FA37F" stroke-width="0.9" stroke-opacity="0.83"/>
<line x1="227.3" y1="359.2" x2="227.3" y2="370.2" stroke="#2FA37F" stroke-width="0.9" stroke-opacity="0.86"/>
<line x1="228.15" y1="359.2" x2="228.15" y2="370.2" stroke="#2FA37F" stroke-width="0.9" stroke-opacity="0.93"/>
<line x1="229.0" y1="359.2" x2="229.0" y2="370.2" stroke="#2FA37F" stroke-width="0.9" stroke-opacity="0.77"/>
<line x1="229.85" y1="359.2" x2="229.85" y2="370.2" stroke="#2FA37F" stroke-width="0.9" stroke-opacity="0.77"/>
<line x1="230.7" y1="359.2" x2="230.7" y2="370.2" stroke="#2FA37F" stroke-width="0.9" stroke-opacity="0.96"/>
<line x1="232.4" y1="359.2" x2="232.4" y2="370.2" stroke="#2FA37F" stroke-width="0.9" stroke-opacity="0.82"/>
<line x1="233.25" y1="359.2" x2="233.25" y2="370.2" stroke="#2FA37F" stroke-width="0.9" stroke-opacity="0.84"/>
<line x1="234.95" y1="359.2" x2="234.95" y2="370.2" stroke="#2FA37F" stroke-width="0.9" stroke-opacity="0.90"/>
<line x1="235.8" y1="359.2" x2="235.8" y2="370.2" stroke="#2FA37F" stroke-width="0.9" stroke-opacity="0.92"/>
<line x1="236.65" y1="359.2" x2="236.65" y2="370.2" stroke="#2FA37F" stroke-width="0.9" stroke-opacity="0.75"/>
<line x1="237.5" y1="359.2" x2="237.5" y2="370.2" stroke="#2FA37F" stroke-width="0.9" stroke-opacity="0.83"/>
<line x1="238.35" y1="359.2" x2="238.35" y2="370.2" stroke="#2FA37F" stroke-width="0.9" stroke-opacity="0.86"/>
<line x1="239.2" y1="359.2" x2="239.2" y2="370.2" stroke="#2FA37F" stroke-width="0.9" stroke-opacity="0.87"/>
<line x1="240.9" y1="359.2" x2="240.9" y2="370.2" stroke="#2FA37F" stroke-width="0.9" stroke-opacity="0.80"/>
<line x1="242.6" y1="359.2" x2="242.6" y2="370.2" stroke="#2FA37F" stroke-width="0.9" stroke-opacity="0.90"/>
<line x1="243.45" y1="359.2" x2="243.45" y2="370.2" stroke="#2FA37F" stroke-width="0.9" stroke-opacity="0.99"/>
<line x1="244.3" y1="359.2" x2="244.3" y2="370.2" stroke="#2FA37F" stroke-width="0.9" stroke-opacity="0.85"/>
<line x1="245.15" y1="359.2" x2="245.15" y2="370.2" stroke="#2FA37F" stroke-width="0.9" stroke-opacity="0.89"/>
<line x1="246.0" y1="359.2" x2="246.0" y2="370.2" stroke="#2FA37F" stroke-width="0.9" stroke-opacity="0.78"/>
<line x1="246.85" y1="359.2" x2="246.85" y2="370.2" stroke="#2FA37F" stroke-width="0.9" stroke-opacity="0.82"/>
<line x1="247.7" y1="359.2" x2="247.7" y2="370.2" stroke="#2FA37F" stroke-width="0.9" stroke-opacity="0.92"/>
<line x1="249.4" y1="359.2" x2="249.4" y2="370.2" stroke="#2FA37F" stroke-width="0.9" stroke-opacity="0.78"/>
<line x1="251.1" y1="359.2" x2="251.1" y2="370.2" stroke="#2FA37F" stroke-width="0.9" stroke-opacity="0.97"/>
<line x1="251.95" y1="359.2" x2="251.95" y2="370.2" stroke="#2FA37F" stroke-width="0.9" stroke-opacity="0.98"/>
<line x1="252.8" y1="359.2" x2="252.8" y2="370.2" stroke="#2FA37F" stroke-width="0.9" stroke-opacity="0.77"/>
<line x1="253.65" y1="359.2" x2="253.65" y2="370.2" stroke="#2FA37F" stroke-width="0.9" stroke-opacity="0.99"/>
<line x1="255.35" y1="359.2" x2="255.35" y2="370.2" stroke="#2FA37F" stroke-width="0.9" stroke-opacity="0.84"/>
<line x1="256.2" y1="359.2" x2="256.2" y2="370.2" stroke="#2FA37F" stroke-width="0.9" stroke-opacity="0.94"/>
<line x1="257.05" y1="359.2" x2="257.05" y2="370.2" stroke="#2FA37F" stroke-width="0.9" stroke-opacity="0.94"/>
<line x1="257.9" y1="359.2" x2="257.9" y2="370.2" stroke="#2FA37F" stroke-width="0.9" stroke-opacity="0.82"/>
<line x1="258.75" y1="359.2" x2="258.75" y2="370.2" stroke="#2FA37F" stroke-width="0.9" stroke-opacity="0.92"/>
<line x1="259.6" y1="359.2" x2="259.6" y2="370.2" stroke="#2FA37F" stroke-width="0.9" stroke-opacity="0.91"/>
<line x1="260.45" y1="359.2" x2="260.45" y2="370.2" stroke="#2FA37F" stroke-width="0.9" stroke-opacity="0.95"/>
<line x1="261.3" y1="359.2" x2="261.3" y2="370.2" stroke="#2FA37F" stroke-width="0.9" stroke-opacity="0.82"/>
<line x1="262.15" y1="359.2" x2="262.15" y2="370.2" stroke="#2FA37F" stroke-width="0.9" stroke-opacity="0.94"/>
<line x1="263.0" y1="359.2" x2="263.0" y2="370.2" stroke="#2FA37F" stroke-width="0.9" stroke-opacity="0.99"/>
<line x1="263.85" y1="359.2" x2="263.85" y2="370.2" stroke="#2FA37F" stroke-width="0.9" stroke-opacity="0.92"/>
<line x1="264.7" y1="359.2" x2="264.7" y2="370.2" stroke="#2FA37F" stroke-width="0.9" stroke-opacity="0.88"/>
<line x1="265.55" y1="359.2" x2="265.55" y2="370.2" stroke="#2FA37F" stroke-width="0.9" stroke-opacity="0.78"/>
<line x1="266.4" y1="359.2" x2="266.4" y2="370.2" stroke="#2FA37F" stroke-width="0.9" stroke-opacity="0.87"/>
<line x1="267.25" y1="359.2" x2="267.25" y2="370.2" stroke="#2FA37F" stroke-width="0.9" stroke-opacity="0.84"/>
<line x1="268.1" y1="359.2" x2="268.1" y2="370.2" stroke="#2FA37F" stroke-width="0.9" stroke-opacity="0.93"/>
<line x1="268.95" y1="359.2" x2="268.95" y2="370.2" stroke="#2FA37F" stroke-width="0.9" stroke-opacity="0.92"/>
<line x1="269.8" y1="359.2" x2="269.8" y2="370.2" stroke="#2FA37F" stroke-width="0.9" stroke-opacity="0.89"/>
<line x1="270.65" y1="359.2" x2="270.65" y2="370.2" stroke="#2FA37F" stroke-width="0.9" stroke-opacity="0.80"/>
<line x1="271.5" y1="359.2" x2="271.5" y2="370.2" stroke="#2FA37F" stroke-width="0.9" stroke-opacity="0.91"/>
<line x1="273.2" y1="359.2" x2="273.2" y2="370.2" stroke="#2FA37F" stroke-width="0.9" stroke-opacity="0.91"/>
<line x1="274.05" y1="359.2" x2="274.05" y2="370.2" stroke="#2FA37F" stroke-width="0.9" stroke-opacity="0.79"/>
<line x1="275.75" y1="359.2" x2="275.75" y2="370.2" stroke="#2FA37F" stroke-width="0.9" stroke-opacity="0.97"/>
<line x1="276.6" y1="359.2" x2="276.6" y2="370.2" stroke="#2FA37F" stroke-width="0.9" stroke-opacity="0.91"/>
<line x1="278.3" y1="359.2" x2="278.3" y2="370.2" stroke="#2FA37F" stroke-width="0.9" stroke-opacity="0.78"/>
<line x1="279.15" y1="359.2" x2="279.15" y2="370.2" stroke="#2FA37F" stroke-width="0.9" stroke-opacity="0.98"/>
<line x1="280.0" y1="359.2" x2="280.0" y2="370.2" stroke="#2FA37F" stroke-width="0.9" stroke-opacity="0.79"/>
<line x1="280.85" y1="359.2" x2="280.85" y2="370.2" stroke="#2FA37F" stroke-width="0.9" stroke-opacity="0.83"/>
<line x1="281.7" y1="359.2" x2="281.7" y2="370.2" stroke="#2FA37F" stroke-width="0.9" stroke-opacity="0.93"/>
<line x1="282.55" y1="359.2" x2="282.55" y2="370.2" stroke="#2FA37F" stroke-width="0.9" stroke-opacity="0.90"/>
<line x1="285.1" y1="359.2" x2="285.1" y2="370.2" stroke="#2FA37F" stroke-width="0.9" stroke-opacity="0.89"/>
<line x1="285.95" y1="359.2" x2="285.95" y2="370.2" stroke="#2FA37F" stroke-width="0.9" stroke-opacity="0.91"/>
<line x1="286.8" y1="359.2" x2="286.8" y2="370.2" stroke="#2FA37F" stroke-width="0.9" stroke-opacity="0.86"/>
<line x1="287.65" y1="359.2" x2="287.65" y2="370.2" stroke="#2FA37F" stroke-width="0.9" stroke-opacity="0.83"/>
<line x1="288.5" y1="359.2" x2="288.5" y2="370.2" stroke="#2FA37F" stroke-width="0.9" stroke-opacity="0.79"/>
<line x1="289.35" y1="359.2" x2="289.35" y2="370.2" stroke="#2FA37F" stroke-width="0.9" stroke-opacity="0.77"/>
<line x1="290.2" y1="359.2" x2="290.2" y2="370.2" stroke="#2FA37F" stroke-width="0.9" stroke-opacity="0.93"/>
<line x1="291.05" y1="359.2" x2="291.05" y2="370.2" stroke="#2FA37F" stroke-width="0.9" stroke-opacity="0.94"/>
<line x1="291.9" y1="359.2" x2="291.9" y2="370.2" stroke="#2FA37F" stroke-width="0.9" stroke-opacity="0.89"/>
<line x1="292.75" y1="359.2" x2="292.75" y2="370.2" stroke="#2FA37F" stroke-width="0.9" stroke-opacity="0.93"/>
<line x1="293.6" y1="359.2" x2="293.6" y2="370.2" stroke="#2FA37F" stroke-width="0.9" stroke-opacity="0.84"/>
<line x1="294.45" y1="359.2" x2="294.45" y2="370.2" stroke="#2FA37F" stroke-width="0.9" stroke-opacity="0.82"/>
<line x1="295.3" y1="359.2" x2="295.3" y2="370.2" stroke="#2FA37F" stroke-width="0.9" stroke-opacity="0.85"/>
<line x1="297.0" y1="359.2" x2="297.0" y2="370.2" stroke="#2FA37F" stroke-width="0.9" stroke-opacity="0.97"/>
<line x1="313.8" y1="359.2" x2="313.8" y2="370.2" stroke="#2FA37F" stroke-width="0.9" stroke-opacity="0.76"/>
<line x1="344.4" y1="359.2" x2="344.4" y2="370.2" stroke="#2FA37F" stroke-width="0.9" stroke-opacity="0.88"/>
<line x1="106.5" y1="370.6" x2="106.5" y2="381.5" stroke="#55C0D4" stroke-width="0.9" stroke-opacity="0.81"/>
<line x1="129.9" y1="370.6" x2="129.9" y2="381.5" stroke="#55C0D4" stroke-width="0.9" stroke-opacity="0.94"/>
<line x1="150.2" y1="370.6" x2="150.2" y2="381.5" stroke="#55C0D4" stroke-width="0.9" stroke-opacity="0.84"/>
<line x1="154.3" y1="370.6" x2="154.3" y2="381.5" stroke="#55C0D4" stroke-width="0.9" stroke-opacity="0.83"/>
<line x1="160.4" y1="370.6" x2="160.4" y2="381.5" stroke="#55C0D4" stroke-width="0.9" stroke-opacity="0.85"/>
<line x1="161.2" y1="370.6" x2="161.2" y2="381.5" stroke="#55C0D4" stroke-width="0.9" stroke-opacity="0.89"/>
<line x1="161.9" y1="370.6" x2="161.9" y2="381.5" stroke="#55C0D4" stroke-width="0.9" stroke-opacity="0.94"/>
<line x1="164.1" y1="370.6" x2="164.1" y2="381.5" stroke="#55C0D4" stroke-width="0.9" stroke-opacity="0.84"/>
<line x1="171.4" y1="370.6" x2="171.4" y2="381.5" stroke="#55C0D4" stroke-width="0.9" stroke-opacity="0.96"/>
<line x1="172.6" y1="370.6" x2="172.6" y2="381.5" stroke="#55C0D4" stroke-width="0.9" stroke-opacity="0.78"/>
<line x1="173.8" y1="370.6" x2="173.8" y2="381.5" stroke="#55C0D4" stroke-width="0.9" stroke-opacity="0.82"/>
<line x1="175.0" y1="370.6" x2="175.0" y2="381.5" stroke="#55C0D4" stroke-width="0.9" stroke-opacity="0.77"/>
<line x1="176.2" y1="370.6" x2="176.2" y2="381.5" stroke="#55C0D4" stroke-width="0.9" stroke-opacity="0.78"/>
<line x1="177.4" y1="370.6" x2="177.4" y2="381.5" stroke="#55C0D4" stroke-width="0.9" stroke-opacity="0.94"/>
<line x1="179.4" y1="370.6" x2="179.4" y2="381.5" stroke="#55C0D4" stroke-width="0.9" stroke-opacity="0.93"/>
<line x1="180.5" y1="370.6" x2="180.5" y2="381.5" stroke="#55C0D4" stroke-width="0.9" stroke-opacity="0.80"/>
<line x1="181.6" y1="370.6" x2="181.6" y2="381.5" stroke="#55C0D4" stroke-width="0.9" stroke-opacity="0.80"/>
<line x1="182.7" y1="370.6" x2="182.7" y2="381.5" stroke="#55C0D4" stroke-width="0.9" stroke-opacity="0.85"/>
<line x1="183.8" y1="370.6" x2="183.8" y2="381.5" stroke="#55C0D4" stroke-width="0.9" stroke-opacity="0.94"/>
<line x1="186" y1="370.6" x2="186" y2="381.5" stroke="#55C0D4" stroke-width="0.9" stroke-opacity="0.95"/>
<line x1="187.1" y1="370.6" x2="187.1" y2="381.5" stroke="#55C0D4" stroke-width="0.9" stroke-opacity="0.94"/>
<line x1="188.2" y1="370.6" x2="188.2" y2="381.5" stroke="#55C0D4" stroke-width="0.9" stroke-opacity="0.90"/>
<line x1="189.3" y1="370.6" x2="189.3" y2="381.5" stroke="#55C0D4" stroke-width="0.9" stroke-opacity="0.79"/>
<line x1="190.4" y1="370.6" x2="190.4" y2="381.5" stroke="#55C0D4" stroke-width="0.9" stroke-opacity="0.85"/>
<line x1="191.5" y1="370.6" x2="191.5" y2="381.5" stroke="#55C0D4" stroke-width="0.9" stroke-opacity="0.80"/>
<line x1="192.6" y1="370.6" x2="192.6" y2="381.5" stroke="#55C0D4" stroke-width="0.9" stroke-opacity="0.88"/>
<line x1="195.5" y1="370.6" x2="195.5" y2="381.5" stroke="#55C0D4" stroke-width="0.9" stroke-opacity="0.89"/>
<line x1="196.9" y1="370.6" x2="196.9" y2="381.5" stroke="#55C0D4" stroke-width="0.9" stroke-opacity="0.80"/>
<line x1="199.1" y1="370.6" x2="199.1" y2="381.5" stroke="#55C0D4" stroke-width="0.9" stroke-opacity="0.81"/>
<line x1="200.1" y1="370.6" x2="200.1" y2="381.5" stroke="#55C0D4" stroke-width="0.9" stroke-opacity="0.95"/>
<line x1="201.1" y1="370.6" x2="201.1" y2="381.5" stroke="#55C0D4" stroke-width="0.9" stroke-opacity="0.76"/>
<line x1="202.1" y1="370.6" x2="202.1" y2="381.5" stroke="#55C0D4" stroke-width="0.9" stroke-opacity="0.95"/>
<line x1="203.1" y1="370.6" x2="203.1" y2="381.5" stroke="#55C0D4" stroke-width="0.9" stroke-opacity="0.97"/>
<line x1="204.1" y1="370.6" x2="204.1" y2="381.5" stroke="#55C0D4" stroke-width="0.9" stroke-opacity="0.99"/>
<line x1="206" y1="370.6" x2="206" y2="381.5" stroke="#55C0D4" stroke-width="0.9" stroke-opacity="0.85"/>
<line x1="207.0" y1="370.6" x2="207.0" y2="381.5" stroke="#55C0D4" stroke-width="0.9" stroke-opacity="0.89"/>
<line x1="208.0" y1="370.6" x2="208.0" y2="381.5" stroke="#55C0D4" stroke-width="0.9" stroke-opacity="0.90"/>
<line x1="209.0" y1="370.6" x2="209.0" y2="381.5" stroke="#55C0D4" stroke-width="0.9" stroke-opacity="0.91"/>
<line x1="210.0" y1="370.6" x2="210.0" y2="381.5" stroke="#55C0D4" stroke-width="0.9" stroke-opacity="0.99"/>
<line x1="211.0" y1="370.6" x2="211.0" y2="381.5" stroke="#55C0D4" stroke-width="0.9" stroke-opacity="0.92"/>
<line x1="215" y1="370.6" x2="215" y2="381.5" stroke="#55C0D4" stroke-width="0.9" stroke-opacity="0.82"/>
<line x1="215.9" y1="370.6" x2="215.9" y2="381.5" stroke="#55C0D4" stroke-width="0.9" stroke-opacity="0.97"/>
<line x1="216.8" y1="370.6" x2="216.8" y2="381.5" stroke="#55C0D4" stroke-width="0.9" stroke-opacity="0.87"/>
<line x1="217.7" y1="370.6" x2="217.7" y2="381.5" stroke="#55C0D4" stroke-width="0.9" stroke-opacity="0.90"/>
<line x1="218.6" y1="370.6" x2="218.6" y2="381.5" stroke="#55C0D4" stroke-width="0.9" stroke-opacity="0.93"/>
<line x1="219.5" y1="370.6" x2="219.5" y2="381.5" stroke="#55C0D4" stroke-width="0.9" stroke-opacity="0.75"/>
<line x1="220.4" y1="370.6" x2="220.4" y2="381.5" stroke="#55C0D4" stroke-width="0.9" stroke-opacity="0.94"/>
<line x1="222" y1="370.6" x2="222" y2="381.5" stroke="#55C0D4" stroke-width="0.9" stroke-opacity="0.92"/>
<line x1="222.8" y1="370.6" x2="222.8" y2="381.5" stroke="#55C0D4" stroke-width="0.9" stroke-opacity="0.87"/>
<line x1="223.6" y1="370.6" x2="223.6" y2="381.5" stroke="#55C0D4" stroke-width="0.9" stroke-opacity="0.88"/>
<line x1="224.4" y1="370.6" x2="224.4" y2="381.5" stroke="#55C0D4" stroke-width="0.9" stroke-opacity="0.87"/>
<line x1="225.2" y1="370.6" x2="225.2" y2="381.5" stroke="#55C0D4" stroke-width="0.9" stroke-opacity="0.80"/>
<line x1="226.0" y1="370.6" x2="226.0" y2="381.5" stroke="#55C0D4" stroke-width="0.9" stroke-opacity="0.88"/>
<line x1="226.8" y1="370.6" x2="226.8" y2="381.5" stroke="#55C0D4" stroke-width="0.9" stroke-opacity="0.76"/>
<line x1="227.6" y1="370.6" x2="227.6" y2="381.5" stroke="#55C0D4" stroke-width="0.9" stroke-opacity="0.88"/>
<line x1="229.2" y1="370.6" x2="229.2" y2="381.5" stroke="#55C0D4" stroke-width="0.9" stroke-opacity="0.91"/>
<line x1="230.0" y1="370.6" x2="230.0" y2="381.5" stroke="#55C0D4" stroke-width="0.9" stroke-opacity="0.86"/>
<line x1="230.8" y1="370.6" x2="230.8" y2="381.5" stroke="#55C0D4" stroke-width="0.9" stroke-opacity="0.89"/>
<line x1="231.6" y1="370.6" x2="231.6" y2="381.5" stroke="#55C0D4" stroke-width="0.9" stroke-opacity="0.99"/>
<line x1="232.4" y1="370.6" x2="232.4" y2="381.5" stroke="#55C0D4" stroke-width="0.9" stroke-opacity="0.97"/>
<line x1="233.2" y1="370.6" x2="233.2" y2="381.5" stroke="#55C0D4" stroke-width="0.9" stroke-opacity="0.78"/>
<line x1="234.0" y1="370.6" x2="234.0" y2="381.5" stroke="#55C0D4" stroke-width="0.9" stroke-opacity="0.95"/>
<line x1="234.8" y1="370.6" x2="234.8" y2="381.5" stroke="#55C0D4" stroke-width="0.9" stroke-opacity="0.91"/>
<line x1="235.6" y1="370.6" x2="235.6" y2="381.5" stroke="#55C0D4" stroke-width="0.9" stroke-opacity="0.76"/>
<line x1="236.4" y1="370.6" x2="236.4" y2="381.5" stroke="#55C0D4" stroke-width="0.9" stroke-opacity="0.84"/>
<line x1="237.2" y1="370.6" x2="237.2" y2="381.5" stroke="#55C0D4" stroke-width="0.9" stroke-opacity="0.81"/>
<line x1="238.0" y1="370.6" x2="238.0" y2="381.5" stroke="#55C0D4" stroke-width="0.9" stroke-opacity="0.77"/>
<line x1="238.8" y1="370.6" x2="238.8" y2="381.5" stroke="#55C0D4" stroke-width="0.9" stroke-opacity="0.88"/>
<line x1="239.6" y1="370.6" x2="239.6" y2="381.5" stroke="#55C0D4" stroke-width="0.9" stroke-opacity="0.98"/>
<line x1="240.4" y1="370.6" x2="240.4" y2="381.5" stroke="#55C0D4" stroke-width="0.9" stroke-opacity="0.83"/>
<line x1="241.2" y1="370.6" x2="241.2" y2="381.5" stroke="#55C0D4" stroke-width="0.9" stroke-opacity="0.97"/>
<line x1="242.0" y1="370.6" x2="242.0" y2="381.5" stroke="#55C0D4" stroke-width="0.9" stroke-opacity="0.92"/>
<line x1="242.8" y1="370.6" x2="242.8" y2="381.5" stroke="#55C0D4" stroke-width="0.9" stroke-opacity="0.78"/>
<line x1="243.6" y1="370.6" x2="243.6" y2="381.5" stroke="#55C0D4" stroke-width="0.9" stroke-opacity="0.96"/>
<line x1="244.4" y1="370.6" x2="244.4" y2="381.5" stroke="#55C0D4" stroke-width="0.9" stroke-opacity="0.90"/>
<line x1="245.2" y1="370.6" x2="245.2" y2="381.5" stroke="#55C0D4" stroke-width="0.9" stroke-opacity="0.98"/>
<line x1="246.0" y1="370.6" x2="246.0" y2="381.5" stroke="#55C0D4" stroke-width="0.9" stroke-opacity="0.93"/>
<line x1="246.8" y1="370.6" x2="246.8" y2="381.5" stroke="#55C0D4" stroke-width="0.9" stroke-opacity="0.93"/>
<line x1="247.6" y1="370.6" x2="247.6" y2="381.5" stroke="#55C0D4" stroke-width="0.9" stroke-opacity="0.84"/>
<line x1="248.4" y1="370.6" x2="248.4" y2="381.5" stroke="#55C0D4" stroke-width="0.9" stroke-opacity="0.95"/>
<line x1="249.2" y1="370.6" x2="249.2" y2="381.5" stroke="#55C0D4" stroke-width="0.9" stroke-opacity="0.98"/>
<line x1="250.0" y1="370.6" x2="250.0" y2="381.5" stroke="#55C0D4" stroke-width="0.9" stroke-opacity="0.97"/>
<line x1="250.8" y1="370.6" x2="250.8" y2="381.5" stroke="#55C0D4" stroke-width="0.9" stroke-opacity="0.86"/>
<line x1="251.6" y1="370.6" x2="251.6" y2="381.5" stroke="#55C0D4" stroke-width="0.9" stroke-opacity="0.94"/>
<line x1="252.4" y1="370.6" x2="252.4" y2="381.5" stroke="#55C0D4" stroke-width="0.9" stroke-opacity="0.87"/>
<line x1="253.2" y1="370.6" x2="253.2" y2="381.5" stroke="#55C0D4" stroke-width="0.9" stroke-opacity="0.78"/>
<line x1="254.0" y1="370.6" x2="254.0" y2="381.5" stroke="#55C0D4" stroke-width="0.9" stroke-opacity="0.76"/>
<line x1="255.6" y1="370.6" x2="255.6" y2="381.5" stroke="#55C0D4" stroke-width="0.9" stroke-opacity="0.77"/>
<line x1="259.6" y1="370.6" x2="259.6" y2="381.5" stroke="#55C0D4" stroke-width="0.9" stroke-opacity="0.80"/>
<line x1="260.4" y1="370.6" x2="260.4" y2="381.5" stroke="#55C0D4" stroke-width="0.9" stroke-opacity="0.79"/>
<line x1="261.2" y1="370.6" x2="261.2" y2="381.5" stroke="#55C0D4" stroke-width="0.9" stroke-opacity="0.87"/>
<line x1="262.0" y1="370.6" x2="262.0" y2="381.5" stroke="#55C0D4" stroke-width="0.9" stroke-opacity="0.92"/>
<line x1="262.8" y1="370.6" x2="262.8" y2="381.5" stroke="#55C0D4" stroke-width="0.9" stroke-opacity="0.88"/>
<line x1="263.6" y1="370.6" x2="263.6" y2="381.5" stroke="#55C0D4" stroke-width="0.9" stroke-opacity="0.86"/>
<line x1="264.4" y1="370.6" x2="264.4" y2="381.5" stroke="#55C0D4" stroke-width="0.9" stroke-opacity="0.91"/>
<line x1="265.2" y1="370.6" x2="265.2" y2="381.5" stroke="#55C0D4" stroke-width="0.9" stroke-opacity="0.83"/>
<line x1="266.0" y1="370.6" x2="266.0" y2="381.5" stroke="#55C0D4" stroke-width="0.9" stroke-opacity="0.87"/>
<line x1="266.8" y1="370.6" x2="266.8" y2="381.5" stroke="#55C0D4" stroke-width="0.9" stroke-opacity="0.94"/>
<line x1="267.6" y1="370.6" x2="267.6" y2="381.5" stroke="#55C0D4" stroke-width="0.9" stroke-opacity="0.85"/>
<line x1="268.4" y1="370.6" x2="268.4" y2="381.5" stroke="#55C0D4" stroke-width="0.9" stroke-opacity="0.80"/>
<line x1="269.2" y1="370.6" x2="269.2" y2="381.5" stroke="#55C0D4" stroke-width="0.9" stroke-opacity="0.97"/>
<line x1="270.8" y1="370.6" x2="270.8" y2="381.5" stroke="#55C0D4" stroke-width="0.9" stroke-opacity="0.93"/>
<line x1="271.6" y1="370.6" x2="271.6" y2="381.5" stroke="#55C0D4" stroke-width="0.9" stroke-opacity="0.84"/>
<line x1="272.4" y1="370.6" x2="272.4" y2="381.5" stroke="#55C0D4" stroke-width="0.9" stroke-opacity="0.84"/>
<line x1="274.0" y1="370.6" x2="274.0" y2="381.5" stroke="#55C0D4" stroke-width="0.9" stroke-opacity="0.88"/>
<line x1="274.8" y1="370.6" x2="274.8" y2="381.5" stroke="#55C0D4" stroke-width="0.9" stroke-opacity="0.90"/>
<line x1="275.6" y1="370.6" x2="275.6" y2="381.5" stroke="#55C0D4" stroke-width="0.9" stroke-opacity="0.81"/>
<line x1="276.4" y1="370.6" x2="276.4" y2="381.5" stroke="#55C0D4" stroke-width="0.9" stroke-opacity="0.75"/>
<line x1="277.2" y1="370.6" x2="277.2" y2="381.5" stroke="#55C0D4" stroke-width="0.9" stroke-opacity="0.80"/>
<line x1="278.0" y1="370.6" x2="278.0" y2="381.5" stroke="#55C0D4" stroke-width="0.9" stroke-opacity="0.95"/>
<line x1="279.6" y1="370.6" x2="279.6" y2="381.5" stroke="#55C0D4" stroke-width="0.9" stroke-opacity="0.79"/>
<line x1="280.4" y1="370.6" x2="280.4" y2="381.5" stroke="#55C0D4" stroke-width="0.9" stroke-opacity="0.86"/>
<line x1="281.2" y1="370.6" x2="281.2" y2="381.5" stroke="#55C0D4" stroke-width="0.9" stroke-opacity="0.80"/>
<line x1="282.0" y1="370.6" x2="282.0" y2="381.5" stroke="#55C0D4" stroke-width="0.9" stroke-opacity="0.80"/>
<line x1="282.8" y1="370.6" x2="282.8" y2="381.5" stroke="#55C0D4" stroke-width="0.9" stroke-opacity="0.79"/>
<line x1="283.6" y1="370.6" x2="283.6" y2="381.5" stroke="#55C0D4" stroke-width="0.9" stroke-opacity="0.85"/>
<line x1="284.4" y1="370.6" x2="284.4" y2="381.5" stroke="#55C0D4" stroke-width="0.9" stroke-opacity="0.79"/>
<line x1="285.2" y1="370.6" x2="285.2" y2="381.5" stroke="#55C0D4" stroke-width="0.9" stroke-opacity="0.76"/>
<line x1="286.0" y1="370.6" x2="286.0" y2="381.5" stroke="#55C0D4" stroke-width="0.9" stroke-opacity="0.78"/>
<line x1="286.8" y1="370.6" x2="286.8" y2="381.5" stroke="#55C0D4" stroke-width="0.9" stroke-opacity="0.79"/>
<line x1="287.6" y1="370.6" x2="287.6" y2="381.5" stroke="#55C0D4" stroke-width="0.9" stroke-opacity="0.87"/>
<line x1="288.4" y1="370.6" x2="288.4" y2="381.5" stroke="#55C0D4" stroke-width="0.9" stroke-opacity="0.76"/>
<line x1="289.2" y1="370.6" x2="289.2" y2="381.5" stroke="#55C0D4" stroke-width="0.9" stroke-opacity="0.76"/>
<line x1="290.0" y1="370.6" x2="290.0" y2="381.5" stroke="#55C0D4" stroke-width="0.9" stroke-opacity="0.86"/>
<line x1="290.8" y1="370.6" x2="290.8" y2="381.5" stroke="#55C0D4" stroke-width="0.9" stroke-opacity="0.85"/>
<line x1="291.6" y1="370.6" x2="291.6" y2="381.5" stroke="#55C0D4" stroke-width="0.9" stroke-opacity="0.93"/>
<line x1="292.4" y1="370.6" x2="292.4" y2="381.5" stroke="#55C0D4" stroke-width="0.9" stroke-opacity="0.76"/>
<line x1="293.2" y1="370.6" x2="293.2" y2="381.5" stroke="#55C0D4" stroke-width="0.9" stroke-opacity="0.85"/>
<line x1="294.0" y1="370.6" x2="294.0" y2="381.5" stroke="#55C0D4" stroke-width="0.9" stroke-opacity="0.85"/>
<line x1="294.8" y1="370.6" x2="294.8" y2="381.5" stroke="#55C0D4" stroke-width="0.9" stroke-opacity="0.76"/>
<line x1="295.6" y1="370.6" x2="295.6" y2="381.5" stroke="#55C0D4" stroke-width="0.9" stroke-opacity="0.99"/>
<line x1="296.4" y1="370.6" x2="296.4" y2="381.5" stroke="#55C0D4" stroke-width="0.9" stroke-opacity="0.80"/>
<line x1="325.8" y1="370.6" x2="325.8" y2="381.5" stroke="#55C0D4" stroke-width="0.9" stroke-opacity="0.77"/>
<path d="M51.9,294.2 L53.08,294.54 L54.27,295.02 L55.45,295.74 L56.64,295.71 L57.82,296.13 L59.01,296.59 L60.19,296.61 L61.38,297.29 L62.56,297.78 L63.75,298.31 L64.93,298.07 L66.12,298.64 L67.3,299.2 L68.41,299.17 L69.51,300.16 L70.62,300.4 L71.72,300.16 L72.83,301.35 L73.93,301.68 L75.04,301.74 L76.15,302.05 L77.25,301.98 L78.36,302.19 L79.46,303.0 L80.57,302.92 L81.67,303.38 L82.78,303.77 L83.89,303.92 L84.99,304.65 L86.1,304.98 L87.2,305.68 L88.31,305.73 L89.41,306.18 L90.52,306.4 L91.63,306.89 L92.73,307.05 L93.84,307.23 L94.94,308.22 L96.05,308.56 L97.15,308.76 L98.26,308.99 L99.37,308.98 L100.47,309.24 L101.58,309.64 L102.68,309.78 L103.79,310.75 L104.89,310.77 L106.0,311.2 L106,309.6 L107.1,310.22 L108.2,310.12 L109.3,310.94 L110.4,311.15 L111.5,310.7 L112.6,311.2 L113.7,312.14 L114.8,312.05 L115.9,312.82 L117.0,312.61 L118.1,312.63 L119.2,313.44 L120.3,313.88 L121.4,313.73 L122.5,313.88 L123.6,314.41 L124.7,315.29 L125.8,315.41 L126.9,315.15 L128.0,315.57 L129.1,315.75 L130.2,316.02 L131.3,317.0 L132.4,316.75 L133.5,317.4 L134.6,317.61 L135.7,317.69 L136.8,318.49 L137.9,318.26 L139.0,319.03 L140.1,318.86 L141.2,319.45 L142.3,319.57 L143.4,319.93 L144.5,320.87 L145.6,321.03 L146.7,320.89 L147.8,321.73 L148.9,321.43 L150.0,322.0 L151.11,322.21 L152.22,322.93 L153.33,323.05 L154.44,322.87 L155.56,323.98 L156.67,323.59 L157.78,323.93 L158.89,324.7 L160.0,324.61 L161.11,324.89 L162.22,325.0 L163.33,325.32 L164.44,326.07 L165.56,326.07 L166.67,326.7 L167.78,326.8 L168.89,327.18 L170.0,327.95 L171.11,327.83 L172.22,328.22 L173.33,328.79 L174.44,328.48 L175.56,328.76 L176.67,329.75 L177.78,329.97 L178.89,329.77 L180.0,330.3 L181.11,330.35 L182.22,331.18 L183.33,331.7 L184.44,331.36 L185.56,332.37 L186.67,332.64 L187.78,332.73 L188.89,332.9 L190.0,332.94 L191.11,333.22 L192.22,334.38 L193.33,334.06 L194.44,334.82 L195.56,334.75 L196.67,335.59 L197.78,335.72 L198.89,335.78 L200.0,336.01 L201.11,336.83 L202.22,336.58 L203.33,337.06 L204.44,337.69 L205.56,338.28 L206.67,338.4 L207.78,338.44 L208.89,339.34 L210.0,339.3 L211.12,339.15 L212.24,339.09 L213.36,339.44 L214.49,339.71 L215.61,339.48 L216.73,339.69 L217.85,339.98 L218.97,340.28 L220.09,340.0 L221.21,340.32 L222.34,340.91 L223.46,341.1 L224.58,340.93 L225.7,340.9 L226.87,340.79 L228.04,340.42 L229.21,339.74 L230.38,339.36 L231.55,339.07 L232.72,339.59 L233.89,339.12 L235.06,339.08 L236.23,337.95 L237.4,338.1 L238.56,337.64 L239.72,336.91 L240.89,336.54 L242.05,335.59 L243.21,335.61 L244.38,334.19 L245.54,334.03 L246.7,333.4 L247.8,333.15 L248.9,332.83 L250.0,332.0 L251.22,331.33 L252.44,330.42 L253.66,329.62 L254.88,328.85 L256.1,327.6 L257.4,326.93 L258.7,326.7 L260.0,326.0 L261.55,324.81 L263.1,322.9 L264.4,322.6 L265.7,321.56 L267.0,321.0 L268.55,319.31 L270.1,317.1 L272.0,315.0 L273.35,311.68 L274.7,307.7 L275.85,306.42 L277.0,305.0 L278.2,301.21 L279.4,297.2 L280.7,295.99 L282.0,295.0 L283.1,294.27 L284.2,293.5 L285.3,292.6 L287.0,290.0 L288.8,286.7 L289.95,284.57 L291.1,283.2 L292.28,283.2 L293.45,283.39 L294.62,283.17 L295.8,282.7 L296.97,283.24 L298.13,283.27 L299.3,283.91 L300.47,284.11 L301.63,284.31 L302.8,285.0 L303.97,284.66 L305.13,285.59 L306.3,285.28 L307.47,286.12 L308.63,286.35 L309.8,286.7 L310.92,286.71 L312.04,287.38 L313.16,287.45 L314.29,287.8 L315.41,288.33 L316.53,287.98 L317.65,288.01 L318.77,288.52 L319.89,289.11 L321.01,288.93 L322.14,289.15 L323.26,290.07 L324.38,290.09 L325.5,290.2 L325.5,286.7 L326.64,287.04 L327.78,287.83 L328.92,287.71 L330.06,288.4 L331.19,288.37 L332.33,288.97 L333.47,289.7 L334.61,290.18 L335.75,290.54 L336.89,290.48 L338.03,291.05 L339.17,291.2 L340.31,291.43 L341.44,292.14 L342.58,292.84 L343.72,293.24 L344.86,293.5 L346.0,293.7" fill="none" stroke="#55C0D4" stroke-width="1.7" stroke-linejoin="round"/>
<path d="M51.9,294.2 L53.08,294.99 L54.27,294.77 L55.45,295.06 L56.64,295.69 L57.82,295.92 L59.01,296.25 L60.19,296.81 L61.38,297.39 L62.56,297.66 L63.75,297.88 L64.93,298.74 L66.12,299.25 L67.3,299.2 L67.3,293.5 L68.41,293.8 L69.51,293.8 L70.62,294.11 L71.72,295.21 L72.83,294.8 L73.93,295.74 L75.04,295.96 L76.15,296.07 L77.25,296.85 L78.36,296.5 L79.46,296.94 L80.57,297.57 L81.67,297.53 L82.78,298.6 L83.89,298.41 L84.99,298.66 L86.1,298.92 L87.2,299.79 L88.31,299.97 L89.41,300.47 L90.52,300.84 L91.63,301.32 L92.73,301.8 L93.84,301.89 L94.94,301.8 L96.05,302.39 L97.15,302.47 L98.26,302.66 L99.37,303.42 L100.47,303.98 L101.58,303.84 L102.68,304.27 L103.79,304.68 L104.89,305.33 L106.0,305.5 L107.1,305.84 L108.2,306.25 L109.3,306.71 L110.4,306.7 L111.5,307.39 L112.6,307.82 L113.7,307.4 L114.8,308.49 L115.9,308.63 L117.0,308.42 L118.1,309.03 L119.2,309.51 L120.3,310.09 L121.4,309.94 L122.5,310.44 L123.6,311.04 L124.7,311.29 L125.8,311.75 L126.9,311.64 L128.0,312.14 L129.1,312.06 L130.2,312.85 L131.3,313.26 L132.4,313.43 L133.5,313.82 L134.6,313.69 L135.7,314.63 L136.8,315.03 L137.9,315.35 L139.0,315.28 L140.1,315.84 L141.2,315.74 L142.3,316.59 L143.4,316.87 L144.5,316.74 L145.6,316.82 L146.7,317.47 L147.8,317.9 L148.9,318.42 L150.0,318.5 L151.11,318.79 L152.22,318.68 L153.33,319.69 L154.44,319.32 L155.56,320.29 L156.67,320.03 L157.78,320.48 L158.89,321.19 L160.0,320.91 L161.11,321.22 L162.22,321.86 L163.33,322.35 L164.44,322.75 L165.56,322.92 L166.67,323.46 L167.78,323.35 L168.89,324.07 L170.0,323.59 L171.11,324.02 L172.22,324.6 L173.33,324.69 L174.44,325.39 L175.56,325.61 L176.67,325.81 L177.78,326.4 L178.89,326.45 L180.0,326.7 L181.11,326.84 L182.22,327.22 L183.33,327.94 L184.44,328.3 L185.56,327.99 L186.67,328.88 L187.78,329.3 L188.89,329.21 L190.0,329.57 L191.11,329.54 L192.22,330.15 L193.33,330.44 L194.44,330.84 L195.56,330.63 L196.67,331.79 L197.78,331.69 L198.89,331.9 L200.0,332.3 L201.11,332.96 L202.22,333.13 L203.33,333.46 L204.44,334.03 L205.56,333.85 L206.67,334.67 L207.78,334.94 L208.89,335.82 L210.0,335.8 L211.12,336.33 L212.23,335.89 L213.35,336.23 L214.47,336.06 L215.58,336.49 L216.7,336.98 L217.82,337.21 L218.93,336.98 L220.05,336.99 L221.17,337.02 L222.28,337.56 L223.4,337.6 L224.57,338.02 L225.73,337.35 L226.9,337.98 L228.07,337.34 L229.23,337.53 L230.4,337.6 L231.57,338.06 L232.73,337.77 L233.9,337.84 L235.07,338.12 L236.23,337.7 L237.4,338.1 L238.57,338.02 L239.73,337.18 L240.9,337.23 L242.07,336.71 L243.23,336.37 L244.4,336.38 L245.57,336.0 L246.73,335.65 L247.9,335.4 L249.07,335.21 L250.23,334.59 L251.4,334.6 L252.56,333.9 L253.72,333.84 L254.89,333.41 L256.05,332.88 L257.21,332.73 L258.38,332.08 L259.54,331.86 L260.7,331.1 L261.88,330.27 L263.05,330.14 L264.23,329.62 L265.4,329.11 L266.57,328.0 L267.75,327.41 L268.93,327.37 L270.1,326.4 L271.33,325.05 L272.55,324.65 L273.77,323.45 L275.0,322.0 L276.47,320.04 L277.93,318.5 L279.4,317.1 L280.6,315.27 L281.8,312.82 L283.0,311.0 L284.13,308.0 L285.27,306.03 L286.4,303.1 L287.7,299.98 L289.0,297.0 L290.1,295.39 L291.2,292.93 L292.3,291.4 L293.45,289.56 L294.6,287.9 L295.95,288.47 L297.3,288.27 L298.65,288.83 L300.0,289.5 L301.12,289.99 L302.23,290.52 L303.35,290.89 L304.46,290.45 L305.58,291.12 L306.69,291.67 L307.81,291.76 L308.92,292.25 L310.04,292.13 L311.15,292.34 L312.27,292.7 L313.38,292.96 L314.5,293.7 L314.5,291.0 L315.62,291.42 L316.74,291.77 L317.87,292.2 L318.99,292.19 L320.11,292.6 L321.23,293.0 L322.36,293.95 L323.48,294.46 L324.6,294.78 L325.72,294.41 L326.84,294.76 L327.97,295.94 L329.09,295.88 L330.21,296.53 L331.33,296.51 L332.46,297.01 L333.58,297.44 L334.7,297.74 L335.82,298.27 L336.94,298.12 L338.07,299.11 L339.19,299.62 L340.31,299.4 L341.43,300.03 L342.56,300.66 L343.68,300.74 L344.8,301.2 L344.8,294.2" fill="none" stroke="#2FA37F" stroke-width="1.7" stroke-linejoin="round"/>
<path d="M51.9,294.2 L53.8,293.7 L54.5,290.8 L55.6,291.34 L56.7,292.3 L58.5,285.7 L59.7,285.98 L60.9,286.74 L62.1,286.9 L63.3,288.03 L64.5,288.48 L65.7,288.93 L66.9,289.3 L68.4,286.8 L70.2,287.9 L71.67,285.59 L73.13,282.86 L74.6,280.2 L75.95,280.58 L77.3,281.17 L78.65,281.55 L80.0,282.0 L81.1,278.8 L82.33,279.6 L83.57,279.95 L84.8,280.2 L86.13,277.83 L87.47,276.09 L88.8,273.6 L90.9,270.4 L92.07,270.17 L93.23,269.79 L94.4,269.2 L96.0,266.0 L97.9,263.4 L100.0,261.5 L101.3,260.92 L102.6,259.9 L103.8,258.38 L105.0,257.0 L106.1,256.38 L107.2,255.2 L109.0,252.5 L110.7,251.2 L111.85,251.12 L113.0,250.5 L114.2,250.39 L115.4,250.0 L116.7,249.94 L118.0,249.5 L120.1,249.3 L122.0,248.5 L123.35,248.74 L124.7,248.6 L125.85,248.88 L127.0,249.3 L128.2,249.62 L129.4,249.33 L130.6,249.8 L131.8,249.29 L133.0,249.0 L134.13,248.84 L135.27,248.39 L136.4,248.6 L137.6,248.9 L138.8,249.5 L140.0,249.8 L141.13,250.12 L142.27,250.08 L143.4,250.5 L144.57,251.04 L145.74,251.08 L146.91,251.08 L148.08,251.53 L149.25,251.7 L150.42,251.9 L151.59,252.03 L152.76,252.69 L153.93,252.67 L155.1,252.8 L156.27,253.3 L157.44,253.7 L158.61,254.22 L159.78,253.91 L160.95,254.68 L162.12,255.13 L163.29,255.15 L164.46,255.61 L165.63,255.73 L166.8,256.4 L167.97,256.54 L169.14,257.01 L170.31,257.17 L171.48,257.63 L172.65,258.43 L173.82,258.54 L174.99,258.86 L176.16,259.53 L177.33,259.6 L178.5,259.9 L179.67,260.6 L180.84,260.7 L182.01,261.17 L183.18,261.0 L184.35,261.72 L185.52,262.18 L186.69,262.03 L187.86,263.0 L189.03,262.81 L190.2,263.4 L191.42,263.64 L192.65,263.69 L193.88,264.18 L195.1,264.53 L196.32,264.4 L197.55,265.29 L198.78,265.18 L200.0,265.5 L201.11,265.99 L202.22,266.5 L203.33,266.81 L204.44,267.22 L205.56,267.94 L206.67,268.34 L207.78,268.62 L208.89,269.38 L210.0,269.7 L211.13,269.84 L212.25,269.92 L213.38,270.36 L214.51,270.5 L215.63,270.86 L216.76,271.56 L217.89,271.58 L219.01,272.22 L220.14,272.39 L221.27,272.19 L222.39,273.12 L223.52,273.37 L224.65,273.04 L225.77,273.9 L226.9,273.9 L228.06,274.19 L229.23,274.57 L230.39,275.25 L231.56,275.09 L232.72,275.62 L233.89,276.25 L235.05,276.44 L236.22,276.61 L237.38,277.31 L238.55,277.53 L239.71,277.73 L240.88,277.72 L242.04,278.42 L243.21,278.65 L244.37,278.81 L245.54,279.05 L246.7,279.7 L247.86,280.01 L249.03,280.01 L250.19,280.52 L251.36,280.96 L252.52,281.1 L253.69,281.25 L254.85,281.76 L256.01,281.93 L257.18,282.47 L258.34,282.58 L259.51,283.19 L260.67,283.45 L261.84,283.58 L263.0,283.7 L264.17,283.67 L265.33,283.73 L266.5,284.42 L267.67,284.5 L268.83,284.54 L270.0,284.5 L271.17,284.59 L272.33,285.03 L273.5,285.1 L274.67,285.26 L275.83,285.44 L277.0,285.5 L278.18,285.92 L279.36,285.76 L280.54,286.04 L281.72,286.8 L282.9,286.99 L284.08,287.21 L285.26,286.86 L286.44,287.11 L287.62,287.5 L288.8,287.9 L289.95,287.85 L291.1,287.99 L292.25,287.62 L293.4,287.93 L294.55,287.6 L295.7,287.61 L296.85,288.02 L298.0,287.9 L299.18,288.17 L300.36,288.45 L301.54,288.5 L302.72,288.8 L303.9,288.85 L305.08,289.17 L306.26,289.68 L307.44,289.98 L308.62,289.67 L309.8,290.2 L312.0,288.5 L313.18,288.32 L314.37,288.88 L315.55,288.84 L316.73,289.02 L317.92,288.72 L319.1,289.0 L320.55,289.7 L322.0,290.5 L323.37,290.8 L324.73,291.65 L326.1,291.9 L327.4,291.44 L328.7,291.27 L330.0,290.8 L331.11,291.56 L332.23,291.51 L333.34,292.08 L334.46,292.63 L335.57,293.17 L336.69,293.24 L337.8,293.7" fill="none" stroke="#E64B35" stroke-width="1.7" stroke-linejoin="round"/>
<rect x="214.30" y="246.80" width="12.60" height="34.50" fill="#fff" stroke="none" stroke-width="1" />
<line x1="216.20" y1="252.30" x2="224.60" y2="252.30" stroke="#E64B35" stroke-width="1.8" />
<text x="229.9" y="254.50" font-size="6.0" fill="#1a1a1a">HALLMARK_ALLOGRAFT_REJECTION</text>
<line x1="216.20" y1="264.00" x2="224.60" y2="264.00" stroke="#55C0D4" stroke-width="1.8" />
<text x="229.9" y="266.20" font-size="6.0" fill="#1a1a1a">HALLMARK_MYC_TARGETS_V1</text>
<line x1="216.20" y1="275.60" x2="224.60" y2="275.60" stroke="#2FA37F" stroke-width="1.8" />
<text x="229.9" y="277.80" font-size="6.0" fill="#1a1a1a">HALLMARK_OXIDATIVE_PHOSPHORYLATION</text>
<rect x="353.40" y="270.00" width="10.00" height="10.00" fill="#fff" stroke="none" stroke-width="1" />
<text x="371.00" y="237.70" font-size="23" text-anchor="start" font-weight="normal" fill="#000" >D</text>
<rect x="496.40" y="246.90" width="127.30" height="177.70" fill="#fff" stroke="none" stroke-width="1" />
<line x1="496.40" y1="259.33" x2="623.70" y2="259.33" stroke="#ebebeb" stroke-width="0.6" />
<line x1="496.40" y1="271.16" x2="623.70" y2="271.16" stroke="#ebebeb" stroke-width="0.6" />
<line x1="496.40" y1="282.99" x2="623.70" y2="282.99" stroke="#ebebeb" stroke-width="0.6" />
<line x1="496.40" y1="294.82" x2="623.70" y2="294.82" stroke="#ebebeb" stroke-width="0.6" />
<line x1="496.40" y1="306.65" x2="623.70" y2="306.65" stroke="#ebebeb" stroke-width="0.6" />
<line x1="496.40" y1="318.48" x2="623.70" y2="318.48" stroke="#ebebeb" stroke-width="0.6" />
<line x1="496.40" y1="330.31" x2="623.70" y2="330.31" stroke="#ebebeb" stroke-width="0.6" />
<line x1="496.40" y1="342.14" x2="623.70" y2="342.14" stroke="#ebebeb" stroke-width="0.6" />
<line x1="496.40" y1="353.97" x2="623.70" y2="353.97" stroke="#ebebeb" stroke-width="0.6" />
<line x1="496.40" y1="365.80" x2="623.70" y2="365.80" stroke="#ebebeb" stroke-width="0.6" />
<line x1="496.40" y1="377.63" x2="623.70" y2="377.63" stroke="#ebebeb" stroke-width="0.6" />
<line x1="496.40" y1="389.46" x2="623.70" y2="389.46" stroke="#ebebeb" stroke-width="0.6" />
<line x1="496.40" y1="401.29" x2="623.70" y2="401.29" stroke="#ebebeb" stroke-width="0.6" />
<line x1="496.40" y1="413.12" x2="623.70" y2="413.12" stroke="#ebebeb" stroke-width="0.6" />
<line x1="528.40" y1="246.90" x2="528.40" y2="424.60" stroke="#ebebeb" stroke-width="0.6" />
<line x1="560.20" y1="246.90" x2="560.20" y2="424.60" stroke="#ebebeb" stroke-width="0.6" />
<line x1="591.80" y1="246.90" x2="591.80" y2="424.60" stroke="#ebebeb" stroke-width="0.6" />
<line x1="496.40" y1="246.90" x2="624.00" y2="246.90" stroke="#808080" stroke-width="1.1" />
<line x1="624.00" y1="246.90" x2="624.00" y2="424.60" stroke="#a8a8a8" stroke-width="1.5" />
<line x1="496.40" y1="246.90" x2="496.40" y2="424.60" stroke="#222" stroke-width="1.0" />
<line x1="496.40" y1="424.60" x2="623.70" y2="424.60" stroke="#222" stroke-width="1.0" />
<line x1="494.00" y1="247.50" x2="496.40" y2="247.50" stroke="#333" stroke-width="0.7" />
<line x1="494.00" y1="259.33" x2="496.40" y2="259.33" stroke="#333" stroke-width="0.7" />
<line x1="494.00" y1="271.16" x2="496.40" y2="271.16" stroke="#333" stroke-width="0.7" />
<line x1="494.00" y1="282.99" x2="496.40" y2="282.99" stroke="#333" stroke-width="0.7" />
<line x1="494.00" y1="294.82" x2="496.40" y2="294.82" stroke="#333" stroke-width="0.7" />
<line x1="494.00" y1="306.65" x2="496.40" y2="306.65" stroke="#333" stroke-width="0.7" />
<line x1="494.00" y1="318.48" x2="496.40" y2="318.48" stroke="#333" stroke-width="0.7" />
<line x1="494.00" y1="330.31" x2="496.40" y2="330.31" stroke="#333" stroke-width="0.7" />
<line x1="494.00" y1="342.14" x2="496.40" y2="342.14" stroke="#333" stroke-width="0.7" />
<line x1="494.00" y1="353.97" x2="496.40" y2="353.97" stroke="#333" stroke-width="0.7" />
<line x1="494.00" y1="365.80" x2="496.40" y2="365.80" stroke="#333" stroke-width="0.7" />
<line x1="494.00" y1="377.63" x2="496.40" y2="377.63" stroke="#333" stroke-width="0.7" />
<line x1="494.00" y1="389.46" x2="496.40" y2="389.46" stroke="#333" stroke-width="0.7" />
<line x1="494.00" y1="401.29" x2="496.40" y2="401.29" stroke="#333" stroke-width="0.7" />
<line x1="494.00" y1="413.12" x2="496.40" y2="413.12" stroke="#333" stroke-width="0.7" />
<line x1="494.00" y1="424.95" x2="496.40" y2="424.95" stroke="#333" stroke-width="0.7" />
<text x="488.20" y="256.00" font-size="6.4" text-anchor="end" font-weight="normal" fill="#444" letter-spacing="0.04">Th17 cell differentiation</text>
<text x="488.20" y="267.80" font-size="6.4" text-anchor="end" font-weight="normal" fill="#444" letter-spacing="0.04">JAK-STAT signaling pathway</text>
<text x="488.20" y="279.60" font-size="6.4" text-anchor="end" font-weight="normal" fill="#444" letter-spacing="0.04">Colorectal cancer</text>
<text x="488.20" y="291.40" font-size="6.4" text-anchor="end" font-weight="normal" fill="#444" letter-spacing="0.04">Cell adhesion molecules</text>
<text x="488.20" y="303.20" font-size="6.4" text-anchor="end" font-weight="normal" fill="#444" letter-spacing="0.04">T cell receptor signaling pathway</text>
<text x="488.20" y="315.00" font-size="6.4" text-anchor="end" font-weight="normal" fill="#444" letter-spacing="0.04">Th1 and Th2 cell differentiation</text>
<text x="488.20" y="326.80" font-size="6.4" text-anchor="end" font-weight="normal" fill="#444" letter-spacing="0.04">Osteoclast differentiation</text>
<text x="488.20" y="338.60" font-size="6.4" text-anchor="end" font-weight="normal" fill="#444" letter-spacing="0.04">Yersinia infection</text>
<text x="488.20" y="350.40" font-size="6.4" text-anchor="end" font-weight="normal" fill="#444" letter-spacing="0.04">Hematopoietic cell lineage</text>
<text x="488.20" y="362.20" font-size="6.4" text-anchor="end" font-weight="normal" fill="#444" letter-spacing="0.04">Leukocyte transendothelial migrat...</text>
<text x="488.20" y="374.00" font-size="6.4" text-anchor="end" font-weight="normal" fill="#444" letter-spacing="0.04">Viral myocarditis</text>
<text x="488.20" y="385.80" font-size="6.4" text-anchor="end" font-weight="normal" fill="#444" letter-spacing="0.04">Graft−versus−host disease</text>
<text x="488.20" y="397.60" font-size="6.4" text-anchor="end" font-weight="normal" fill="#444" letter-spacing="0.04">Measles</text>
<text x="488.20" y="409.40" font-size="6.4" text-anchor="end" font-weight="normal" fill="#444" letter-spacing="0.04">Primary immunodeficiency</text>
<text x="488.20" y="421.20" font-size="6.4" text-anchor="end" font-weight="normal" fill="#444" letter-spacing="0.04">Natural killer cell mediated cytoto...</text>
<line x1="496.60" y1="424.60" x2="496.60" y2="426.80" stroke="#333" stroke-width="0.7" />
<text x="496.60" y="435.40" font-size="6.1" text-anchor="middle" font-weight="normal" fill="#5a5a5a" letter-spacing="0.15">0.02</text>
<line x1="528.40" y1="424.60" x2="528.40" y2="426.80" stroke="#333" stroke-width="0.7" />
<text x="528.40" y="435.40" font-size="6.1" text-anchor="middle" font-weight="normal" fill="#5a5a5a" letter-spacing="0.15">0.04</text>
<line x1="560.20" y1="424.60" x2="560.20" y2="426.80" stroke="#333" stroke-width="0.7" />
<text x="560.20" y="435.40" font-size="6.1" text-anchor="middle" font-weight="normal" fill="#5a5a5a" letter-spacing="0.15">0.06</text>
<line x1="591.80" y1="424.60" x2="591.80" y2="426.80" stroke="#333" stroke-width="0.7" />
<text x="591.80" y="435.40" font-size="6.1" text-anchor="middle" font-weight="normal" fill="#5a5a5a" letter-spacing="0.15">0.08</text>
<line x1="623.30" y1="424.60" x2="623.30" y2="426.80" stroke="#333" stroke-width="0.7" />
<text x="623.30" y="435.40" font-size="6.1" text-anchor="middle" font-weight="normal" fill="#5a5a5a" letter-spacing="0.15">0.1</text>
<text x="560.00" y="446.00" font-size="6.8" text-anchor="middle" font-weight="normal" fill="#444" letter-spacing="0.15">gene_ratio</text>
<text x="0.00" y="0.00" font-size="6.6" text-anchor="middle" font-weight="normal" fill="#333" transform="translate(385.00,335.70) rotate(-90)" >Description</text>
<rect x="389.60" y="260.00" width="104.60" height="11.60" fill="none" stroke="#e8231b" stroke-width="1.6" />
<circle cx="523.2" cy="253.7" r="1.0" fill="#a4e05a"/>
<circle cx="537.9" cy="265.4" r="2.5" fill="#b4eea0" fill-opacity="0.8" stroke="#b4eea0" stroke-width="0.6"/>
<circle cx="523.2" cy="277.5" r="1.0" fill="#a4e45a"/>
<circle cx="537.9" cy="289.0" r="2.5" fill="#b6eea0" fill-opacity="0.8" stroke="#b6eea0" stroke-width="0.6"/>
<circle cx="537.9" cy="300.7" r="2.5" fill="#b6eea0" fill-opacity="0.8" stroke="#b6eea0" stroke-width="0.6"/>
<circle cx="523.2" cy="312.6" r="1.0" fill="#a4e45a"/>
<circle cx="537.9" cy="324.5" r="2.5" fill="#bfe496" fill-opacity="0.8" stroke="#bfe496" stroke-width="0.6"/>
<circle cx="551.8" cy="336.2" r="3.0" fill="#cbbd7c" fill-opacity="0.8" stroke="#cbbd7c" stroke-width="0.6"/>
<circle cx="523.2" cy="348.1" r="1.0" fill="#d89a44"/>
<circle cx="551.8" cy="359.9" r="3.0" fill="#dc9070" fill-opacity="0.8" stroke="#dc9070" stroke-width="0.6"/>
<circle cx="537.9" cy="371.7" r="2.5" fill="#e65252" fill-opacity="0.8" stroke="#e65252" stroke-width="0.6"/>
<circle cx="523.2" cy="383.5" r="1.0" fill="#e54545"/>
<circle cx="566.3" cy="395.4" r="3.6" fill="#e65a5a" fill-opacity="0.8" stroke="#e65a5a" stroke-width="0.6"/>
<circle cx="523.2" cy="407.3" r="1.0" fill="#e54545"/>
<circle cx="610.8" cy="419.1" r="5.1000000000000005" fill="#ec5a5a" fill-opacity="0.8" stroke="#ec5a5a" stroke-width="0.6"/>
<text x="634.70" y="268.20" font-size="6.7" text-anchor="start" font-weight="bold" fill="#1a1a1a" letter-spacing="0.45">Gene Number</text>
<circle cx="639.8" cy="278.6" r="0.6" fill="#000"/>
<circle cx="640.0" cy="284.7" r="2.4" fill="#000"/>
<circle cx="640.0" cy="296.4" r="5.1" fill="#000"/>
<text x="648.80" y="278.60" font-size="5.6" text-anchor="start" font-weight="normal" fill="#4d4d4d" >4</text>
<text x="648.80" y="284.40" font-size="5.6" text-anchor="start" font-weight="normal" fill="#4d4d4d" >7</text>
<text x="648.80" y="296.50" font-size="5.6" text-anchor="start" font-weight="normal" fill="#4d4d4d" >10</text>
<text x="634.70" y="322.70" font-size="6.7" text-anchor="start" font-weight="bold" fill="#1a1a1a" letter-spacing="0.4">pvalue</text>
<defs><linearGradient id="cbD" x1="0" y1="0" x2="0" y2="1"><stop offset="0.0" stop-color="#8040ff"/><stop offset="0.25" stop-color="#5f8cff"/><stop offset="0.4" stop-color="#50d8ff"/><stop offset="0.47" stop-color="#55f5ff"/><stop offset="0.6" stop-color="#55ffb0"/><stop offset="0.7" stop-color="#70f040"/><stop offset="0.78" stop-color="#80b020"/><stop offset="0.88" stop-color="#b05020"/><stop offset="1.0" stop-color="#ff2020"/></linearGradient></defs>
<rect x="634.40" y="331.20" width="6.50" height="107.80" fill="url(#cbD)" stroke="none" stroke-width="1" />
<line x1="634.40" y1="358.50" x2="640.90" y2="358.50" stroke="#fff" stroke-width="0.6" />
<line x1="634.40" y1="385.20" x2="640.90" y2="385.20" stroke="#fff" stroke-width="0.6" />
<line x1="634.40" y1="412.00" x2="640.90" y2="412.00" stroke="#fff" stroke-width="0.6" />
<text x="648.80" y="333.00" font-size="5.7" text-anchor="start" font-weight="normal" fill="#555" letter-spacing="0.2">0.10</text>
<text x="648.80" y="360.00" font-size="5.7" text-anchor="start" font-weight="normal" fill="#555" letter-spacing="0.2">0.07</text>
<text x="648.80" y="386.80" font-size="5.7" text-anchor="start" font-weight="normal" fill="#555" letter-spacing="0.2">0.05</text>
<text x="648.80" y="413.60" font-size="5.7" text-anchor="start" font-weight="normal" fill="#555" letter-spacing="0.2">0.03</text>
<text x="648.80" y="440.80" font-size="5.7" text-anchor="start" font-weight="normal" fill="#555" letter-spacing="0.2">0.00</text>
<text x="34.50" y="506.60" font-size="23" text-anchor="start" font-weight="normal" fill="#000" >E</text>
<text x="94.50" y="519.90" font-size="10.8" text-anchor="end" font-weight="normal" fill="#111" >Ctrl</text>
<line x1="117.50" y1="516.30" x2="122.70" y2="516.30" stroke="#111" stroke-width="1.4" />
<line x1="144.70" y1="516.30" x2="152.90" y2="516.30" stroke="#111" stroke-width="1.35" />
<line x1="148.80" y1="512.20" x2="148.80" y2="520.40" stroke="#111" stroke-width="1.35" />
<line x1="171.40" y1="516.30" x2="176.60" y2="516.30" stroke="#111" stroke-width="1.4" />
<line x1="198.80" y1="516.30" x2="207.00" y2="516.30" stroke="#111" stroke-width="1.35" />
<line x1="202.90" y1="512.20" x2="202.90" y2="520.40" stroke="#111" stroke-width="1.35" />
<line x1="229.60" y1="516.30" x2="234.80" y2="516.30" stroke="#111" stroke-width="1.4" />
<line x1="256.10" y1="516.30" x2="264.30" y2="516.30" stroke="#111" stroke-width="1.35" />
<line x1="260.20" y1="512.20" x2="260.20" y2="520.40" stroke="#111" stroke-width="1.35" />
<text x="94.50" y="540.00" font-size="10.8" text-anchor="end" font-weight="normal" fill="#111" >NA</text>
<line x1="116.00" y1="535.60" x2="124.20" y2="535.60" stroke="#111" stroke-width="1.35" />
<line x1="120.10" y1="531.50" x2="120.10" y2="539.70" stroke="#111" stroke-width="1.35" />
<line x1="146.20" y1="535.60" x2="151.40" y2="535.60" stroke="#111" stroke-width="1.4" />
<line x1="169.90" y1="535.60" x2="178.10" y2="535.60" stroke="#111" stroke-width="1.35" />
<line x1="174.00" y1="531.50" x2="174.00" y2="539.70" stroke="#111" stroke-width="1.35" />
<line x1="200.30" y1="535.60" x2="205.50" y2="535.60" stroke="#111" stroke-width="1.4" />
<line x1="228.10" y1="535.60" x2="236.30" y2="535.60" stroke="#111" stroke-width="1.35" />
<line x1="232.20" y1="531.50" x2="232.20" y2="539.70" stroke="#111" stroke-width="1.35" />
<line x1="257.60" y1="535.60" x2="262.80" y2="535.60" stroke="#111" stroke-width="1.4" />
<text x="94.50" y="558.70" font-size="10.8" text-anchor="end" font-weight="normal" fill="#111" >Siglec-7<tspan font-size="7" dy="-4">+</tspan></text>
<line x1="116.00" y1="555.20" x2="124.20" y2="555.20" stroke="#111" stroke-width="1.35" />
<line x1="120.10" y1="551.10" x2="120.10" y2="559.30" stroke="#111" stroke-width="1.35" />
<line x1="144.70" y1="555.20" x2="152.90" y2="555.20" stroke="#111" stroke-width="1.35" />
<line x1="148.80" y1="551.10" x2="148.80" y2="559.30" stroke="#111" stroke-width="1.35" />
<line x1="171.40" y1="555.20" x2="176.60" y2="555.20" stroke="#111" stroke-width="1.4" />
<line x1="200.30" y1="555.20" x2="205.50" y2="555.20" stroke="#111" stroke-width="1.4" />
<line x1="229.60" y1="555.20" x2="234.80" y2="555.20" stroke="#111" stroke-width="1.4" />
<line x1="257.60" y1="555.20" x2="262.80" y2="555.20" stroke="#111" stroke-width="1.4" />
<text x="94.50" y="576.50" font-size="10.8" text-anchor="end" font-weight="normal" fill="#111" >Siglec-7<tspan font-size="6" dy="-4.2">−</tspan></text>
<line x1="117.50" y1="573.30" x2="122.70" y2="573.30" stroke="#111" stroke-width="1.4" />
<line x1="146.20" y1="573.30" x2="151.40" y2="573.30" stroke="#111" stroke-width="1.4" />
<line x1="171.40" y1="573.30" x2="176.60" y2="573.30" stroke="#111" stroke-width="1.4" />
<line x1="200.30" y1="573.30" x2="205.50" y2="573.30" stroke="#111" stroke-width="1.4" />
<line x1="228.10" y1="573.30" x2="236.30" y2="573.30" stroke="#111" stroke-width="1.35" />
<line x1="232.20" y1="569.20" x2="232.20" y2="577.40" stroke="#111" stroke-width="1.35" />
<line x1="256.10" y1="573.30" x2="264.30" y2="573.30" stroke="#111" stroke-width="1.35" />
<line x1="260.20" y1="569.20" x2="260.20" y2="577.40" stroke="#111" stroke-width="1.35" />
<defs><filter id="bl1" x="-30%" y="-100%" width="160%" height="300%"><feGaussianBlur stdDeviation="1.1"/></filter><filter id="bl2" x="-30%" y="-100%" width="160%" height="300%"><feGaussianBlur stdDeviation="1.8"/></filter></defs>
<defs><clipPath id="e1"><rect x="102.1" y="585.7" width="179.9" height="27.299999999999955"/></clipPath></defs>
<g clip-path="url(#e1)">
<rect x="102.10" y="585.70" width="179.90" height="27.30" fill="#eeeeee" stroke="none" stroke-width="1" />
<rect x="107.60" y="598.30" width="22.80" height="5.00" rx="3" fill="#aaa" opacity="0.4" filter="url(#bl2)"/>
<rect x="105.80" y="596.45" width="26.40" height="3.70" rx="1.85" fill="#262626" filter="url(#bl1)"/>
<rect x="137.20" y="597.90" width="21.70" height="6.00" rx="3" fill="#999" opacity="0.5" filter="url(#bl2)"/>
<rect x="135.40" y="595.60" width="25.30" height="4.60" rx="2.30" fill="#1a1a1a" filter="url(#bl1)"/>
<rect x="164.00" y="597.40" width="22.60" height="7.00" rx="3" fill="#999" opacity="0.6" filter="url(#bl2)"/>
<rect x="162.20" y="595.20" width="26.20" height="4.40" rx="2.20" fill="#222" filter="url(#bl1)"/>
<rect x="191.80" y="597.10" width="23.60" height="7.00" rx="3" fill="#aaa" opacity="0.5" filter="url(#bl2)"/>
<rect x="190.00" y="595.00" width="27.20" height="4.20" rx="2.10" fill="#2e2e2e" filter="url(#bl1)"/>
<rect x="220.30" y="597.90" width="21.40" height="6.00" rx="3" fill="#aaa" opacity="0.5" filter="url(#bl2)"/>
<rect x="218.50" y="595.70" width="25.00" height="4.40" rx="2.20" fill="#262626" filter="url(#bl1)"/>
<rect x="247.30" y="597.10" width="25.70" height="10.00" rx="3" fill="#888" opacity="0.6" filter="url(#bl2)"/>
<rect x="245.50" y="594.00" width="29.30" height="6.20" rx="3.10" fill="#0a0a0a" filter="url(#bl1)"/>
</g>
<rect x="102.10" y="585.70" width="179.90" height="27.30" fill="none" stroke="#3a3a3a" stroke-width="1.1" />
<defs><clipPath id="e2"><rect x="102.1" y="616.6" width="179.9" height="26.899999999999977"/></clipPath></defs>
<g clip-path="url(#e2)">
<rect x="102.10" y="616.60" width="179.90" height="26.90" fill="#eeeeee" stroke="none" stroke-width="1" />
<rect x="107.80" y="629.00" width="26.00" height="10.00" rx="3" fill="#aaa" opacity="0.55" filter="url(#bl2)"/>
<rect x="106.00" y="625.40" width="29.60" height="7.20" rx="3.60" fill="#121212" filter="url(#bl1)"/>
<rect x="137.70" y="629.00" width="23.80" height="10.00" rx="3" fill="#aaa" opacity="0.55" filter="url(#bl2)"/>
<rect x="135.90" y="625.30" width="27.40" height="7.40" rx="3.70" fill="#121212" filter="url(#bl1)"/>
<rect x="164.70" y="628.60" width="23.80" height="10.00" rx="3" fill="#999" opacity="0.6" filter="url(#bl2)"/>
<rect x="162.90" y="624.80" width="27.40" height="7.60" rx="3.80" fill="#181818" filter="url(#bl1)"/>
<rect x="192.10" y="628.60" width="25.20" height="10.00" rx="3" fill="#aaa" opacity="0.5" filter="url(#bl2)"/>
<rect x="190.30" y="624.90" width="28.80" height="7.40" rx="3.70" fill="#161616" filter="url(#bl1)"/>
<rect x="221.30" y="628.40" width="23.80" height="10.00" rx="3" fill="#999" opacity="0.55" filter="url(#bl2)"/>
<rect x="219.50" y="624.30" width="27.40" height="8.20" rx="4.10" fill="#060606" filter="url(#bl1)"/>
<rect x="248.30" y="628.40" width="27.40" height="10.00" rx="3" fill="#aaa" opacity="0.5" filter="url(#bl2)"/>
<rect x="246.50" y="624.60" width="31.00" height="7.60" rx="3.80" fill="#0d0d0d" filter="url(#bl1)"/>
</g>
<rect x="102.10" y="616.60" width="179.90" height="26.90" fill="none" stroke="#3a3a3a" stroke-width="1.1" />
<defs><clipPath id="e3"><rect x="102.1" y="647.5" width="179.9" height="26.899999999999977"/></clipPath></defs>
<g clip-path="url(#e3)">
<rect x="102.10" y="647.50" width="179.90" height="26.90" fill="#eeeeee" stroke="none" stroke-width="1" />
<rect x="106.70" y="653.70" width="30.40" height="11.00" rx="5.50" fill="#080808" filter="url(#bl1)"/>
<rect x="140.00" y="659.20" width="23.60" height="8.00" rx="3" fill="#bbb" opacity="0.4" filter="url(#bl2)"/>
<rect x="138.20" y="654.70" width="27.20" height="9.00" rx="4.50" fill="#2a2a2a" filter="url(#bl1)"/>
<rect x="167.70" y="659.20" width="20.80" height="13.00" rx="3" fill="#999" opacity="0.6" filter="url(#bl2)"/>
<rect x="165.90" y="654.20" width="24.40" height="10.00" rx="5.00" fill="#1c1c1c" filter="url(#bl1)"/>
<rect x="195.00" y="659.20" width="22.30" height="13.00" rx="3" fill="#999" opacity="0.5" filter="url(#bl2)"/>
<rect x="193.20" y="654.50" width="25.90" height="9.40" rx="4.70" fill="#1a1a1a" filter="url(#bl1)"/>
<rect x="222.00" y="659.20" width="25.30" height="12.00" rx="3" fill="#999" opacity="0.5" filter="url(#bl2)"/>
<rect x="220.20" y="653.95" width="28.90" height="10.50" rx="5.25" fill="#070707" filter="url(#bl1)"/>
<rect x="252.70" y="659.20" width="21.10" height="13.00" rx="3" fill="#888" opacity="0.6" filter="url(#bl2)"/>
<rect x="250.90" y="653.70" width="24.70" height="11.00" rx="5.50" fill="#070707" filter="url(#bl1)"/>
</g>
<rect x="102.10" y="647.50" width="179.90" height="26.90" fill="none" stroke="#3a3a3a" stroke-width="1.1" />
<text x="94.70" y="603.00" font-size="11.2" text-anchor="end" font-weight="normal" fill="#111" >pSTAT3</text>
<text x="94.70" y="634.00" font-size="11.2" text-anchor="end" font-weight="normal" fill="#111" >STAT3</text>
<text x="94.70" y="664.00" font-size="11.2" text-anchor="end" font-weight="normal" fill="#111" >GAPDH</text>
<text x="286.40" y="601.60" font-size="9.2" text-anchor="start" font-weight="normal" fill="#111" >86kDa</text>
<text x="286.40" y="632.60" font-size="9.2" text-anchor="start" font-weight="normal" fill="#111" >86kDa</text>
<text x="286.40" y="661.80" font-size="9.2" text-anchor="start" font-weight="normal" fill="#111" >37kDa</text>
<line x1="48.10" y1="592.50" x2="48.10" y2="669.80" stroke="#555" stroke-width="1.3" />
<text x="0.00" y="0.00" font-size="11.3" text-anchor="middle" font-weight="normal" fill="#111" transform="translate(42.40,628.20) rotate(-90)" >HTR8</text>
<text x="370.20" y="507.00" font-size="23" text-anchor="start" font-weight="normal" fill="#000" >F</text>
<text x="431.60" y="519.90" font-size="10.8" text-anchor="end" font-weight="normal" fill="#111" >Ctrl</text>
<line x1="454.80" y1="517.50" x2="460.00" y2="517.50" stroke="#111" stroke-width="1.4" />
<line x1="482.60" y1="517.50" x2="490.80" y2="517.50" stroke="#111" stroke-width="1.35" />
<line x1="486.70" y1="513.40" x2="486.70" y2="521.60" stroke="#111" stroke-width="1.35" />
<line x1="509.10" y1="517.50" x2="514.30" y2="517.50" stroke="#111" stroke-width="1.4" />
<line x1="538.10" y1="517.50" x2="543.30" y2="517.50" stroke="#111" stroke-width="1.4" />
<line x1="565.70" y1="517.50" x2="570.90" y2="517.50" stroke="#111" stroke-width="1.4" />
<line x1="593.40" y1="517.50" x2="601.60" y2="517.50" stroke="#111" stroke-width="1.35" />
<line x1="597.50" y1="513.40" x2="597.50" y2="521.60" stroke="#111" stroke-width="1.35" />
<text x="431.60" y="540.00" font-size="10.8" text-anchor="end" font-weight="normal" fill="#111" >NA</text>
<line x1="453.30" y1="535.90" x2="461.50" y2="535.90" stroke="#111" stroke-width="1.35" />
<line x1="457.40" y1="531.80" x2="457.40" y2="540.00" stroke="#111" stroke-width="1.35" />
<line x1="484.10" y1="535.90" x2="489.30" y2="535.90" stroke="#111" stroke-width="1.4" />
<line x1="509.10" y1="535.90" x2="514.30" y2="535.90" stroke="#111" stroke-width="1.4" />
<line x1="538.10" y1="535.90" x2="543.30" y2="535.90" stroke="#111" stroke-width="1.4" />
<line x1="564.20" y1="535.90" x2="572.40" y2="535.90" stroke="#111" stroke-width="1.35" />
<line x1="568.30" y1="531.80" x2="568.30" y2="540.00" stroke="#111" stroke-width="1.35" />
<line x1="594.90" y1="535.90" x2="600.10" y2="535.90" stroke="#111" stroke-width="1.4" />
<text x="431.60" y="558.70" font-size="10.8" text-anchor="end" font-weight="normal" fill="#111" >Siglec-7<tspan font-size="7" dy="-4">+</tspan></text>
<line x1="453.30" y1="555.50" x2="461.50" y2="555.50" stroke="#111" stroke-width="1.35" />
<line x1="457.40" y1="551.40" x2="457.40" y2="559.60" stroke="#111" stroke-width="1.35" />
<line x1="482.60" y1="555.50" x2="490.80" y2="555.50" stroke="#111" stroke-width="1.35" />
<line x1="486.70" y1="551.40" x2="486.70" y2="559.60" stroke="#111" stroke-width="1.35" />
<line x1="507.60" y1="555.50" x2="515.80" y2="555.50" stroke="#111" stroke-width="1.35" />
<line x1="511.70" y1="551.40" x2="511.70" y2="559.60" stroke="#111" stroke-width="1.35" />
<line x1="538.10" y1="555.50" x2="543.30" y2="555.50" stroke="#111" stroke-width="1.4" />
<line x1="565.70" y1="555.50" x2="570.90" y2="555.50" stroke="#111" stroke-width="1.4" />
<line x1="594.90" y1="555.50" x2="600.10" y2="555.50" stroke="#111" stroke-width="1.4" />
<text x="431.60" y="576.50" font-size="10.8" text-anchor="end" font-weight="normal" fill="#111" >Siglec-7<tspan font-size="6" dy="-4.2">−</tspan></text>
<line x1="454.80" y1="573.70" x2="460.00" y2="573.70" stroke="#111" stroke-width="1.4" />
<line x1="484.10" y1="573.70" x2="489.30" y2="573.70" stroke="#111" stroke-width="1.4" />
<line x1="509.10" y1="573.70" x2="514.30" y2="573.70" stroke="#111" stroke-width="1.4" />
<line x1="536.60" y1="573.70" x2="544.80" y2="573.70" stroke="#111" stroke-width="1.35" />
<line x1="540.70" y1="569.60" x2="540.70" y2="577.80" stroke="#111" stroke-width="1.35" />
<line x1="564.20" y1="573.70" x2="572.40" y2="573.70" stroke="#111" stroke-width="1.35" />
<line x1="568.30" y1="569.60" x2="568.30" y2="577.80" stroke="#111" stroke-width="1.35" />
<line x1="593.40" y1="573.70" x2="601.60" y2="573.70" stroke="#111" stroke-width="1.35" />
<line x1="597.50" y1="569.60" x2="597.50" y2="577.80" stroke="#111" stroke-width="1.35" />
<defs><clipPath id="f1"><rect x="439.0" y="586.2" width="179.89999999999998" height="27.5"/></clipPath></defs>
<g clip-path="url(#f1)">
<rect x="439.00" y="586.20" width="179.90" height="27.50" fill="#eeeeee" stroke="none" stroke-width="1" />
<rect x="443.10" y="595.40" width="27.20" height="8.00" rx="4.00" fill="#080808" filter="url(#bl1)"/>
<rect x="471.80" y="595.90" width="26.20" height="8.40" rx="4.20" fill="#141414" filter="url(#bl1)"/>
<rect x="500.00" y="595.20" width="25.10" height="8.40" rx="4.20" fill="#0e0e0e" filter="url(#bl1)"/>
<rect x="527.70" y="595.40" width="25.10" height="6.60" rx="3.30" fill="#262626" filter="url(#bl1)"/>
<rect x="555.00" y="593.90" width="25.10" height="8.60" rx="4.30" fill="#070707" filter="url(#bl1)"/>
<rect x="582.30" y="595.00" width="21.50" height="7.60" rx="3.80" fill="#0b0b0b" filter="url(#bl1)"/>
<rect x="595.20" y="593.70" width="21.00" height="5.40" rx="2.70" fill="#0b0b0b" filter="url(#bl1)"/>
</g>
<rect x="439.00" y="586.20" width="179.90" height="27.50" fill="none" stroke="#3a3a3a" stroke-width="1.1" />
<defs><clipPath id="f2"><rect x="439.0" y="618.1" width="179.89999999999998" height="27.299999999999955"/></clipPath></defs>
<g clip-path="url(#f2)">
<rect x="439.00" y="618.10" width="179.90" height="27.30" fill="#eeeeee" stroke="none" stroke-width="1" />
<rect x="439.70" y="626.00" width="177.30" height="10.60" rx="5.30" fill="#090909" filter="url(#bl1)"/>
<rect x="443.20" y="626.70" width="27.60" height="10.60" rx="5.30" fill="#090909" filter="url(#bl1)"/>
<rect x="469.20" y="627.00" width="28.60" height="10.60" rx="5.30" fill="#090909" filter="url(#bl1)"/>
<rect x="496.20" y="626.30" width="28.60" height="10.60" rx="5.30" fill="#090909" filter="url(#bl1)"/>
<rect x="523.20" y="625.90" width="29.60" height="10.60" rx="5.30" fill="#090909" filter="url(#bl1)"/>
<rect x="551.20" y="625.70" width="29.60" height="10.60" rx="5.30" fill="#090909" filter="url(#bl1)"/>
<rect x="579.20" y="625.70" width="36.60" height="9.00" rx="4.50" fill="#090909" filter="url(#bl1)"/>
</g>
<rect x="439.00" y="618.10" width="179.90" height="27.30" fill="none" stroke="#3a3a3a" stroke-width="1.1" />
<text x="432.80" y="603.30" font-size="11.2" text-anchor="end" font-weight="normal" fill="#111" >SHP-2</text>
<text x="432.80" y="635.00" font-size="11.2" text-anchor="end" font-weight="normal" fill="#111" >GAPDH</text>
<text x="622.40" y="602.60" font-size="9.2" text-anchor="start" font-weight="normal" fill="#111" >68kDa</text>
<text x="622.40" y="632.80" font-size="9.2" text-anchor="start" font-weight="normal" fill="#111" >37kDa</text>
<line x1="384.60" y1="585.30" x2="384.60" y2="651.20" stroke="#222" stroke-width="1.1" />
<text x="0.00" y="0.00" font-size="11.3" text-anchor="middle" font-weight="normal" fill="#111" transform="translate(378.80,613.70) rotate(-90)" >NK-92MI</text>
<line x1="67.50" y1="707.00" x2="67.50" y2="797.30" stroke="#222" stroke-width="1.1" />
<line x1="67.00" y1="796.80" x2="127.50" y2="796.80" stroke="#222" stroke-width="1.1" />
<line x1="64.50" y1="707.00" x2="67.50" y2="707.00" stroke="#222" stroke-width="1.0" />
<text x="63.90" y="709.66" font-size="7.4" text-anchor="end" font-weight="normal" fill="#222" >2.0</text>
<line x1="64.50" y1="729.40" x2="67.50" y2="729.40" stroke="#222" stroke-width="1.0" />
<text x="63.90" y="732.06" font-size="7.4" text-anchor="end" font-weight="normal" fill="#222" >1.5</text>
<line x1="64.50" y1="751.90" x2="67.50" y2="751.90" stroke="#222" stroke-width="1.0" />
<text x="63.90" y="754.56" font-size="7.4" text-anchor="end" font-weight="normal" fill="#222" >1.0</text>
<line x1="64.50" y1="774.60" x2="67.50" y2="774.60" stroke="#222" stroke-width="1.0" />
<text x="63.90" y="777.26" font-size="7.4" text-anchor="end" font-weight="normal" fill="#222" >0.5</text>
<line x1="64.50" y1="796.80" x2="67.50" y2="796.80" stroke="#222" stroke-width="1.0" />
<text x="63.90" y="799.46" font-size="7.4" text-anchor="end" font-weight="normal" fill="#222" >0.0</text>
<path d="M77.65,796.80 L77.65,753.35 L91.75,753.35 L91.75,796.80" fill="none" stroke="#b3262b" stroke-width="1.9"/>
<line x1="84.70" y1="796.80" x2="84.70" y2="799.80" stroke="#222" stroke-width="1.0" />
<circle cx="78.90" cy="752.40" r="1.35" fill="#b3262b"/>
<circle cx="84.80" cy="752.40" r="1.35" fill="#b3262b"/>
<circle cx="90.80" cy="752.40" r="1.35" fill="#b3262b"/>
<path d="M103.15,796.80 L103.15,726.35 L117.75,726.35 L117.75,796.80" fill="none" stroke="#2424a6" stroke-width="1.9"/>
<line x1="110.45" y1="796.80" x2="110.45" y2="799.80" stroke="#222" stroke-width="1.0" />
<line x1="110.40" y1="712.00" x2="110.40" y2="737.20" stroke="#2424a6" stroke-width="1.0" />
<line x1="106.15" y1="712.00" x2="114.65" y2="712.00" stroke="#2424a6" stroke-width="1.0" />
<line x1="106.15" y1="737.20" x2="114.65" y2="737.20" stroke="#2424a6" stroke-width="1.0" />
<circle cx="110.40" cy="713.30" r="1.35" fill="#2424a6"/>
<circle cx="110.40" cy="722.80" r="1.35" fill="#2424a6"/>
<circle cx="110.40" cy="738.80" r="1.35" fill="#2424a6"/>
<line x1="84.50" y1="701.30" x2="110.00" y2="701.30" stroke="#222" stroke-width="1.1" />
<text x="97.80" y="702.00" font-size="11.5" text-anchor="middle" font-weight="normal" fill="#222" >*</text>
<text x="0.00" y="0.00" font-size="7.2" text-anchor="middle" font-weight="normal" fill="#222" transform="translate(38.20,752.60) rotate(-90)" >Relative average gray value</text>
<text x="0.00" y="0.00" font-size="7.2" text-anchor="middle" font-weight="normal" fill="#222" transform="translate(48.30,752.20) rotate(-90)" >of pSTAT3 (S7<tspan font-size="4.8" dy="-2.6">+</tspan><tspan dy="2.6">NK-92MI)</tspan></text>
<text x="0.00" y="0.00" font-size="6.8" text-anchor="end" font-weight="normal" fill="#222" transform="translate(86.70,806.50) rotate(-45)" >NA</text>
<text x="0.00" y="0.00" font-size="6.8" text-anchor="end" font-weight="normal" fill="#222" transform="translate(112.40,806.50) rotate(-45)" >CTRL</text>
<line x1="172.50" y1="707.00" x2="172.50" y2="797.30" stroke="#222" stroke-width="1.1" />
<line x1="172.00" y1="796.80" x2="232.50" y2="796.80" stroke="#222" stroke-width="1.1" />
<line x1="169.50" y1="707.00" x2="172.50" y2="707.00" stroke="#222" stroke-width="1.0" />
<text x="168.90" y="709.66" font-size="7.4" text-anchor="end" font-weight="normal" fill="#222" >2.0</text>
<line x1="169.50" y1="729.40" x2="172.50" y2="729.40" stroke="#222" stroke-width="1.0" />
<text x="168.90" y="732.06" font-size="7.4" text-anchor="end" font-weight="normal" fill="#222" >1.5</text>
<line x1="169.50" y1="751.90" x2="172.50" y2="751.90" stroke="#222" stroke-width="1.0" />
<text x="168.90" y="754.56" font-size="7.4" text-anchor="end" font-weight="normal" fill="#222" >1.0</text>
<line x1="169.50" y1="774.60" x2="172.50" y2="774.60" stroke="#222" stroke-width="1.0" />
<text x="168.90" y="777.26" font-size="7.4" text-anchor="end" font-weight="normal" fill="#222" >0.5</text>
<line x1="169.50" y1="796.80" x2="172.50" y2="796.80" stroke="#222" stroke-width="1.0" />
<text x="168.90" y="799.46" font-size="7.4" text-anchor="end" font-weight="normal" fill="#222" >0.0</text>
<path d="M182.65,796.80 L182.65,753.35 L196.75,753.35 L196.75,796.80" fill="none" stroke="#b3262b" stroke-width="1.9"/>
<line x1="189.70" y1="796.80" x2="189.70" y2="799.80" stroke="#222" stroke-width="1.0" />
<circle cx="183.90" cy="752.40" r="1.35" fill="#b3262b"/>
<circle cx="189.80" cy="752.40" r="1.35" fill="#b3262b"/>
<circle cx="195.80" cy="752.40" r="1.35" fill="#b3262b"/>
<path d="M207.85,796.80 L207.85,737.05 L222.75,737.05 L222.75,796.80" fill="none" stroke="#2424a6" stroke-width="1.9"/>
<line x1="215.30" y1="796.80" x2="215.30" y2="799.80" stroke="#222" stroke-width="1.0" />
<line x1="215.00" y1="714.00" x2="215.00" y2="757.40" stroke="#7a7ac4" stroke-width="1.0" />
<line x1="210.75" y1="714.00" x2="219.25" y2="714.00" stroke="#7a7ac4" stroke-width="1.0" />
<line x1="210.75" y1="757.40" x2="219.25" y2="757.40" stroke="#7a7ac4" stroke-width="1.0" />
<circle cx="215.00" cy="712.80" r="1.35" fill="#2424a6"/>
<circle cx="215.00" cy="738.00" r="1.35" fill="#2424a6"/>
<circle cx="215.00" cy="756.10" r="1.35" fill="#2424a6"/>
<line x1="189.50" y1="701.30" x2="215.00" y2="701.30" stroke="#222" stroke-width="1.1" />
<text x="202.10" y="698.30" font-size="6.8" text-anchor="middle" font-weight="normal" fill="#222" >ns</text>
<text x="0.00" y="0.00" font-size="7.2" text-anchor="middle" font-weight="normal" fill="#222" transform="translate(143.20,752.60) rotate(-90)" >Relative average gray value</text>
<text x="0.00" y="0.00" font-size="7.2" text-anchor="middle" font-weight="normal" fill="#222" transform="translate(153.30,752.20) rotate(-90)" >of pSTAT3 (S7<tspan font-size="4.8" dy="-2.6">+</tspan><tspan dy="2.6">NK-92MI)</tspan></text>
<text x="0.00" y="0.00" font-size="6.8" text-anchor="end" font-weight="normal" fill="#222" transform="translate(191.70,806.50) rotate(-45)" >NA</text>
<text x="0.00" y="0.00" font-size="6.8" text-anchor="end" font-weight="normal" fill="#222" transform="translate(217.30,806.50) rotate(-45)" >CTRL</text>
<line x1="273.80" y1="706.10" x2="273.80" y2="796.50" stroke="#222" stroke-width="1.1" />
<line x1="273.30" y1="796.00" x2="334.40" y2="796.00" stroke="#222" stroke-width="1.1" />
<line x1="270.80" y1="706.10" x2="273.80" y2="706.10" stroke="#222" stroke-width="1.0" />
<text x="270.20" y="708.76" font-size="7.4" text-anchor="end" font-weight="normal" fill="#222" >1.5</text>
<line x1="270.80" y1="736.60" x2="273.80" y2="736.60" stroke="#222" stroke-width="1.0" />
<text x="270.20" y="739.26" font-size="7.4" text-anchor="end" font-weight="normal" fill="#222" >1.0</text>
<line x1="270.80" y1="766.30" x2="273.80" y2="766.30" stroke="#222" stroke-width="1.0" />
<text x="270.20" y="768.96" font-size="7.4" text-anchor="end" font-weight="normal" fill="#222" >0.5</text>
<line x1="270.80" y1="796.00" x2="273.80" y2="796.00" stroke="#222" stroke-width="1.0" />
<text x="270.20" y="798.66" font-size="7.4" text-anchor="end" font-weight="normal" fill="#222" >0.0</text>
<path d="M283.95,796.00 L283.95,737.55 L298.45,737.55 L298.45,796.00" fill="none" stroke="#b3262b" stroke-width="1.9"/>
<line x1="291.20" y1="796.00" x2="291.20" y2="799.00" stroke="#222" stroke-width="1.0" />
<circle cx="285.50" cy="736.60" r="1.35" fill="#b3262b"/>
<circle cx="291.20" cy="736.60" r="1.35" fill="#b3262b"/>
<circle cx="297.00" cy="736.60" r="1.35" fill="#b3262b"/>
<path d="M309.35,796.00 L309.35,738.35 L324.15,738.35 L324.15,796.00" fill="none" stroke="#2424a6" stroke-width="1.9"/>
<line x1="316.75" y1="796.00" x2="316.75" y2="799.00" stroke="#222" stroke-width="1.0" />
<line x1="316.70" y1="733.00" x2="316.70" y2="740.10" stroke="#2424a6" stroke-width="1.0" />
<line x1="313.20" y1="733.00" x2="320.20" y2="733.00" stroke="#2424a6" stroke-width="1.0" />
<line x1="313.20" y1="740.10" x2="320.20" y2="740.10" stroke="#2424a6" stroke-width="1.0" />
<circle cx="316.70" cy="732.60" r="1.35" fill="#2424a6"/>
<circle cx="318.00" cy="737.70" r="1.35" fill="#2424a6"/>
<circle cx="313.80" cy="740.30" r="1.35" fill="#2424a6"/>
<line x1="291.00" y1="722.10" x2="316.70" y2="722.10" stroke="#222" stroke-width="1.1" />
<text x="303.90" y="717.80" font-size="6.8" text-anchor="middle" font-weight="normal" fill="#222" >ns</text>
<text x="0.00" y="0.00" font-size="7.2" text-anchor="middle" font-weight="normal" fill="#222" transform="translate(247.00,750.60) rotate(-90)" >Relative average gray value</text>
<text x="0.00" y="0.00" font-size="7.2" text-anchor="middle" font-weight="normal" fill="#222" transform="translate(255.00,751.80) rotate(-90)" >of pSTAT3 (medium)</text>
<text x="0.00" y="0.00" font-size="6.8" text-anchor="end" font-weight="normal" fill="#222" transform="translate(293.20,806.50) rotate(-45)" >NA</text>
<text x="0.00" y="0.00" font-size="6.8" text-anchor="end" font-weight="normal" fill="#222" transform="translate(318.70,806.50) rotate(-45)" >CTRL</text>
<line x1="407.80" y1="706.20" x2="407.80" y2="796.30" stroke="#222" stroke-width="1.1" />
<line x1="407.30" y1="795.80" x2="467.60" y2="795.80" stroke="#222" stroke-width="1.1" />
<line x1="404.80" y1="706.20" x2="407.80" y2="706.20" stroke="#222" stroke-width="1.0" />
<text x="404.20" y="708.86" font-size="7.4" text-anchor="end" font-weight="normal" fill="#222" >1.5</text>
<line x1="404.80" y1="736.50" x2="407.80" y2="736.50" stroke="#222" stroke-width="1.0" />
<text x="404.20" y="739.16" font-size="7.4" text-anchor="end" font-weight="normal" fill="#222" >1.0</text>
<line x1="404.80" y1="766.40" x2="407.80" y2="766.40" stroke="#222" stroke-width="1.0" />
<text x="404.20" y="769.06" font-size="7.4" text-anchor="end" font-weight="normal" fill="#222" >0.5</text>
<line x1="404.80" y1="795.80" x2="407.80" y2="795.80" stroke="#222" stroke-width="1.0" />
<text x="404.20" y="798.46" font-size="7.4" text-anchor="end" font-weight="normal" fill="#222" >0.0</text>
<path d="M417.65,795.80 L417.65,737.45 L432.05,737.45 L432.05,795.80" fill="none" stroke="#b3262b" stroke-width="1.9"/>
<line x1="424.85" y1="795.80" x2="424.85" y2="798.80" stroke="#222" stroke-width="1.0" />
<circle cx="419.00" cy="736.50" r="1.35" fill="#b3262b"/>
<circle cx="424.80" cy="736.50" r="1.35" fill="#b3262b"/>
<circle cx="430.70" cy="736.50" r="1.35" fill="#b3262b"/>
<path d="M443.15,795.80 L443.15,719.75 L457.75,719.75 L457.75,795.80" fill="none" stroke="#2424a6" stroke-width="1.9"/>
<line x1="450.45" y1="795.80" x2="450.45" y2="798.80" stroke="#222" stroke-width="1.0" />
<line x1="450.40" y1="714.90" x2="450.40" y2="722.60" stroke="#2424a6" stroke-width="1.0" />
<line x1="446.40" y1="714.90" x2="454.40" y2="714.90" stroke="#2424a6" stroke-width="1.0" />
<line x1="446.40" y1="722.60" x2="454.40" y2="722.60" stroke="#2424a6" stroke-width="1.0" />
<circle cx="450.40" cy="715.20" r="1.35" fill="#2424a6"/>
<circle cx="450.40" cy="718.30" r="1.35" fill="#2424a6"/>
<circle cx="450.40" cy="722.30" r="1.35" fill="#2424a6"/>
<line x1="424.80" y1="704.20" x2="450.40" y2="704.20" stroke="#222" stroke-width="1.1" />
<text x="437.80" y="705.00" font-size="11.5" text-anchor="middle" font-weight="normal" fill="#222" >***</text>
<text x="0.00" y="0.00" font-size="7.2" text-anchor="middle" font-weight="normal" fill="#222" transform="translate(378.50,752.00) rotate(-90)" >Relative average gray value</text>
<text x="0.00" y="0.00" font-size="7.2" text-anchor="middle" font-weight="normal" fill="#222" transform="translate(389.50,752.00) rotate(-90)" >of SHP2 (S7<tspan font-size="4.8" dy="-2.6">+</tspan><tspan dy="2.6">NK-92MI)</tspan></text>
<text x="0.00" y="0.00" font-size="6.8" text-anchor="end" font-weight="normal" fill="#222" transform="translate(426.80,806.50) rotate(-45)" >NA</text>
<text x="0.00" y="0.00" font-size="6.8" text-anchor="end" font-weight="normal" fill="#222" transform="translate(452.40,806.50) rotate(-45)" >CTRL</text>
<line x1="509.20" y1="706.20" x2="509.20" y2="796.80" stroke="#222" stroke-width="1.1" />
<line x1="508.70" y1="796.30" x2="568.80" y2="796.30" stroke="#222" stroke-width="1.1" />
<line x1="506.20" y1="706.20" x2="509.20" y2="706.20" stroke="#222" stroke-width="1.0" />
<text x="505.60" y="708.86" font-size="7.4" text-anchor="end" font-weight="normal" fill="#222" >1.5</text>
<line x1="506.20" y1="736.80" x2="509.20" y2="736.80" stroke="#222" stroke-width="1.0" />
<text x="505.60" y="739.46" font-size="7.4" text-anchor="end" font-weight="normal" fill="#222" >1.0</text>
<line x1="506.20" y1="766.50" x2="509.20" y2="766.50" stroke="#222" stroke-width="1.0" />
<text x="505.60" y="769.16" font-size="7.4" text-anchor="end" font-weight="normal" fill="#222" >0.5</text>
<line x1="506.20" y1="796.30" x2="509.20" y2="796.30" stroke="#222" stroke-width="1.0" />
<text x="505.60" y="798.96" font-size="7.4" text-anchor="end" font-weight="normal" fill="#222" >0.0</text>
<path d="M518.65,796.30 L518.65,737.75 L533.05,737.75 L533.05,796.30" fill="none" stroke="#b3262b" stroke-width="1.9"/>
<line x1="525.85" y1="796.30" x2="525.85" y2="799.30" stroke="#222" stroke-width="1.0" />
<circle cx="520.00" cy="736.80" r="1.35" fill="#b3262b"/>
<circle cx="525.90" cy="736.80" r="1.35" fill="#b3262b"/>
<circle cx="531.80" cy="736.80" r="1.35" fill="#b3262b"/>
<path d="M544.45,796.30 L544.45,731.45 L558.85,731.45 L558.85,796.30" fill="none" stroke="#2424a6" stroke-width="1.9"/>
<line x1="551.65" y1="796.30" x2="551.65" y2="799.30" stroke="#222" stroke-width="1.0" />
<line x1="551.60" y1="724.30" x2="551.60" y2="735.70" stroke="#2424a6" stroke-width="1.0" />
<line x1="547.60" y1="724.30" x2="555.60" y2="724.30" stroke="#2424a6" stroke-width="1.0" />
<line x1="547.60" y1="735.70" x2="555.60" y2="735.70" stroke="#2424a6" stroke-width="1.0" />
<circle cx="551.60" cy="725.40" r="1.35" fill="#2424a6"/>
<circle cx="551.60" cy="729.40" r="1.35" fill="#2424a6"/>
<circle cx="551.60" cy="736.80" r="1.35" fill="#2424a6"/>
<line x1="526.40" y1="714.10" x2="551.60" y2="714.10" stroke="#222" stroke-width="1.1" />
<text x="539.00" y="709.80" font-size="6.8" text-anchor="middle" font-weight="normal" fill="#222" >ns</text>
<text x="0.00" y="0.00" font-size="7.2" text-anchor="middle" font-weight="normal" fill="#222" transform="translate(479.60,752.00) rotate(-90)" >Relative average gray value</text>
<text x="0.00" y="0.00" font-size="7.2" text-anchor="middle" font-weight="normal" fill="#222" transform="translate(490.60,752.00) rotate(-90)" >of SHP2 (S7<tspan font-size="4.8" dy="-2.6">+</tspan><tspan dy="2.6">NK-92MI)</tspan></text>
<text x="0.00" y="0.00" font-size="6.8" text-anchor="end" font-weight="normal" fill="#222" transform="translate(527.90,806.50) rotate(-45)" >NA</text>
<text x="0.00" y="0.00" font-size="6.8" text-anchor="end" font-weight="normal" fill="#222" transform="translate(553.60,806.50) rotate(-45)" >CTRL</text>
<line x1="612.40" y1="706.10" x2="612.40" y2="796.80" stroke="#222" stroke-width="1.1" />
<line x1="611.90" y1="796.30" x2="672.60" y2="796.30" stroke="#222" stroke-width="1.1" />
<line x1="609.40" y1="706.10" x2="612.40" y2="706.10" stroke="#222" stroke-width="1.0" />
<text x="608.80" y="708.76" font-size="7.4" text-anchor="end" font-weight="normal" fill="#222" >1.5</text>
<line x1="609.40" y1="736.60" x2="612.40" y2="736.60" stroke="#222" stroke-width="1.0" />
<text x="608.80" y="739.26" font-size="7.4" text-anchor="end" font-weight="normal" fill="#222" >1.0</text>
<line x1="609.40" y1="766.40" x2="612.40" y2="766.40" stroke="#222" stroke-width="1.0" />
<text x="608.80" y="769.06" font-size="7.4" text-anchor="end" font-weight="normal" fill="#222" >0.5</text>
<line x1="609.40" y1="796.30" x2="612.40" y2="796.30" stroke="#222" stroke-width="1.0" />
<text x="608.80" y="798.96" font-size="7.4" text-anchor="end" font-weight="normal" fill="#222" >0.0</text>
<path d="M622.55,796.30 L622.55,737.55 L636.65,737.55 L636.65,796.30" fill="none" stroke="#b3262b" stroke-width="1.9"/>
<line x1="629.60" y1="796.30" x2="629.60" y2="799.30" stroke="#222" stroke-width="1.0" />
<circle cx="624.00" cy="736.60" r="1.35" fill="#b3262b"/>
<circle cx="629.60" cy="736.60" r="1.35" fill="#b3262b"/>
<circle cx="635.20" cy="736.60" r="1.35" fill="#b3262b"/>
<path d="M647.95,796.30 L647.95,742.05 L662.35,742.05 L662.35,796.30" fill="none" stroke="#2424a6" stroke-width="1.9"/>
<line x1="655.15" y1="796.30" x2="655.15" y2="799.30" stroke="#222" stroke-width="1.0" />
<line x1="655.00" y1="727.40" x2="655.00" y2="753.10" stroke="#7a7ac4" stroke-width="1.0" />
<line x1="651.00" y1="727.40" x2="659.00" y2="727.40" stroke="#7a7ac4" stroke-width="1.0" />
<line x1="651.00" y1="753.10" x2="659.00" y2="753.10" stroke="#7a7ac4" stroke-width="1.0" />
<circle cx="655.00" cy="726.60" r="1.35" fill="#2424a6"/>
<circle cx="655.00" cy="742.70" r="1.35" fill="#2424a6"/>
<circle cx="655.00" cy="751.80" r="1.35" fill="#2424a6"/>
<line x1="629.60" y1="716.00" x2="655.00" y2="716.00" stroke="#222" stroke-width="1.1" />
<text x="642.40" y="711.80" font-size="6.8" text-anchor="middle" font-weight="normal" fill="#222" >ns</text>
<text x="0.00" y="0.00" font-size="7.2" text-anchor="middle" font-weight="normal" fill="#222" transform="translate(585.50,752.00) rotate(-90)" >Relative average gray value</text>
<text x="0.00" y="0.00" font-size="7.2" text-anchor="middle" font-weight="normal" fill="#222" transform="translate(594.80,752.00) rotate(-90)" >of SHP2 (medium)</text>
<text x="0.00" y="0.00" font-size="6.8" text-anchor="end" font-weight="normal" fill="#222" transform="translate(632.10,806.50) rotate(-45)" >S7<tspan font-size="5.6" dy="-2.8">+</tspan></text>
<text x="0.00" y="0.00" font-size="6.8" text-anchor="end" font-weight="normal" fill="#222" transform="translate(657.70,806.50) rotate(-45)" >S7<tspan font-size="5.6" dy="-2.8">−</tspan></text>
</svg></body></html>
